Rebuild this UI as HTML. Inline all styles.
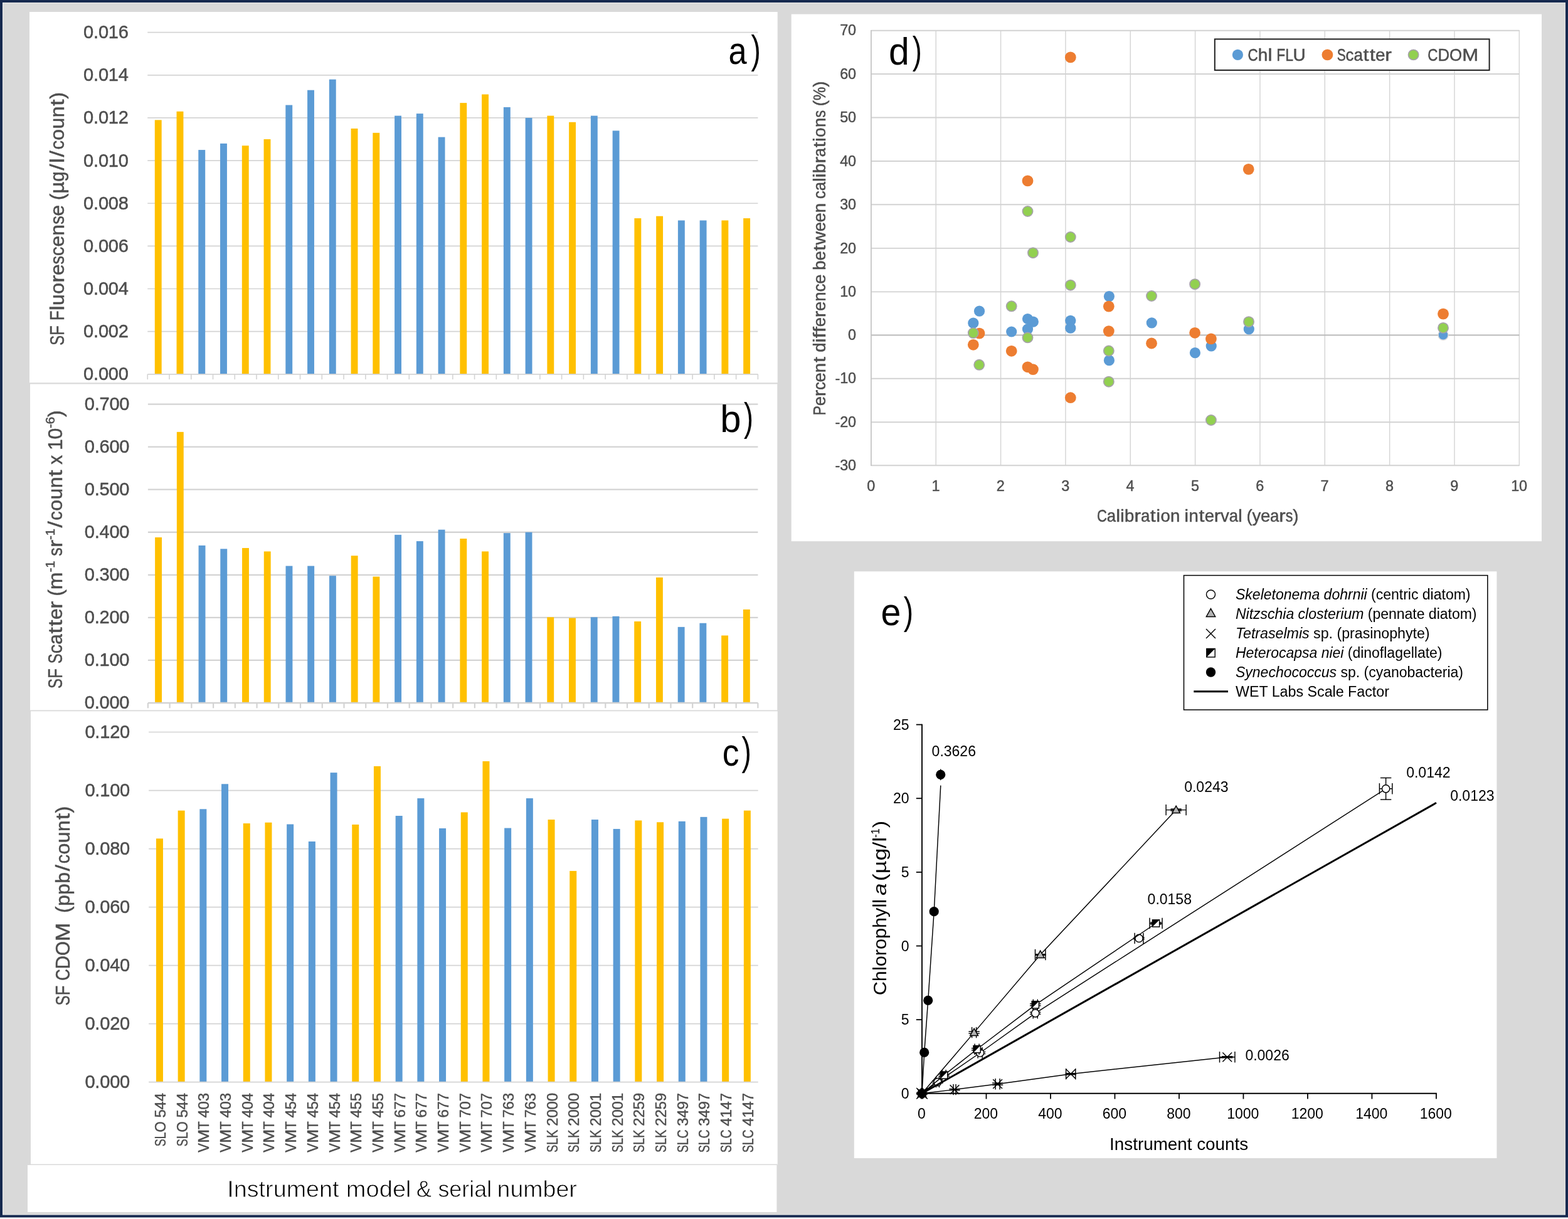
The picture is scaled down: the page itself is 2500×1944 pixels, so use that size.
<!DOCTYPE html>
<html lang="en">
<head>
<meta charset="utf-8">
<title>Scale factor calibration figure</title>
<style>
html,body{margin:0;padding:0;background:#D9D9D9;}
body{width:2500px;height:1944px;overflow:hidden;}
svg{display:block;font-family:"Liberation Sans", sans-serif;}
text{white-space:pre;}
</style>
</head>
<body>
<svg width="2500" height="1944" viewBox="0 0 2500 1944" role="img" aria-label="Five-panel figure: scale factors by instrument (a-c), calibration drift (d) and chlorophyll versus instrument counts (e)">
<rect x="0" y="0" width="2500" height="1944" fill="#16294F"/>
<rect x="0" y="1941.5" width="2500" height="2.5" fill="#FFFFFF"/>
<rect x="4" y="4" width="2492" height="1933.6" fill="#E9E9E9"/>
<rect x="5" y="5" width="2490.5" height="1931.6" fill="#D9D9D9"/>
<rect x="47" y="19" width="1192.7" height="593" fill="#FFFFFF"/>
<rect x="48" y="611" width="1191.3" height="523" fill="#FFFFFF"/>
<rect x="49" y="1133" width="1190.7" height="725" fill="#FFFFFF"/>
<rect x="44" y="1857.6" width="1194.4" height="75.4" fill="#FFFFFF"/>
<line x1="47" y1="611.4" x2="1240" y2="611.4" stroke="#D9D9D9" stroke-width="2.2"/>
<line x1="48" y1="1133.4" x2="1240" y2="1133.4" stroke="#D9D9D9" stroke-width="1.6"/>
<line x1="44" y1="1857.3" x2="1239.7" y2="1857.3" stroke="#D9D9D9" stroke-width="1.4"/>
<line x1="235.25" y1="51.7" x2="1208.4" y2="51.7" stroke="#D4D4D4" stroke-width="1.7"/>
<line x1="235.25" y1="119.84" x2="1208.4" y2="119.84" stroke="#D4D4D4" stroke-width="1.7"/>
<line x1="235.25" y1="187.97" x2="1208.4" y2="187.97" stroke="#D4D4D4" stroke-width="1.7"/>
<line x1="235.25" y1="256.11" x2="1208.4" y2="256.11" stroke="#D4D4D4" stroke-width="1.7"/>
<line x1="235.25" y1="324.25" x2="1208.4" y2="324.25" stroke="#D4D4D4" stroke-width="1.7"/>
<line x1="235.25" y1="392.39" x2="1208.4" y2="392.39" stroke="#D4D4D4" stroke-width="1.7"/>
<line x1="235.25" y1="460.52" x2="1208.4" y2="460.52" stroke="#D4D4D4" stroke-width="1.7"/>
<line x1="235.25" y1="528.66" x2="1208.4" y2="528.66" stroke="#D4D4D4" stroke-width="1.7"/>
<rect x="246.78" y="191.38" width="10.9" height="405.42" fill="#FFC000"/>
<rect x="281.53" y="177.75" width="10.9" height="419.05" fill="#FFC000"/>
<rect x="316.29" y="239.08" width="10.9" height="357.72" fill="#5B9BD5"/>
<rect x="351.04" y="228.86" width="10.9" height="367.94" fill="#5B9BD5"/>
<rect x="385.8" y="232.26" width="10.9" height="364.54" fill="#FFC000"/>
<rect x="420.55" y="222.04" width="10.9" height="374.76" fill="#FFC000"/>
<rect x="455.31" y="167.53" width="10.9" height="429.27" fill="#5B9BD5"/>
<rect x="490.07" y="143.69" width="10.9" height="453.11" fill="#5B9BD5"/>
<rect x="524.82" y="126.65" width="10.9" height="470.15" fill="#5B9BD5"/>
<rect x="559.58" y="205.01" width="10.9" height="391.79" fill="#FFC000"/>
<rect x="594.33" y="211.82" width="10.9" height="384.98" fill="#FFC000"/>
<rect x="629.09" y="184.57" width="10.9" height="412.23" fill="#5B9BD5"/>
<rect x="663.84" y="181.16" width="10.9" height="415.64" fill="#5B9BD5"/>
<rect x="698.6" y="218.64" width="10.9" height="378.16" fill="#5B9BD5"/>
<rect x="733.35" y="164.13" width="10.9" height="432.67" fill="#FFC000"/>
<rect x="768.11" y="150.5" width="10.9" height="446.3" fill="#FFC000"/>
<rect x="802.86" y="170.94" width="10.9" height="425.86" fill="#5B9BD5"/>
<rect x="837.62" y="187.98" width="10.9" height="408.82" fill="#5B9BD5"/>
<rect x="872.37" y="184.57" width="10.9" height="412.23" fill="#FFC000"/>
<rect x="907.13" y="194.79" width="10.9" height="402.01" fill="#FFC000"/>
<rect x="941.88" y="184.57" width="10.9" height="412.23" fill="#5B9BD5"/>
<rect x="976.64" y="208.42" width="10.9" height="388.38" fill="#5B9BD5"/>
<rect x="1011.4" y="348.1" width="10.9" height="248.7" fill="#FFC000"/>
<rect x="1046.15" y="344.69" width="10.9" height="252.11" fill="#FFC000"/>
<rect x="1080.91" y="351.5" width="10.9" height="245.29" fill="#5B9BD5"/>
<rect x="1115.66" y="351.5" width="10.9" height="245.29" fill="#5B9BD5"/>
<rect x="1150.42" y="351.5" width="10.9" height="245.29" fill="#FFC000"/>
<rect x="1185.17" y="348.1" width="10.9" height="248.7" fill="#FFC000"/>
<line x1="235.25" y1="596.8" x2="1208.4" y2="596.8" stroke="#D4D4D4" stroke-width="1.7"/>
<line x1="235.25" y1="596.8" x2="235.25" y2="605.1" stroke="#D4D4D4" stroke-width="1.6"/>
<line x1="270.01" y1="596.8" x2="270.01" y2="605.1" stroke="#D4D4D4" stroke-width="1.6"/>
<line x1="304.76" y1="596.8" x2="304.76" y2="605.1" stroke="#D4D4D4" stroke-width="1.6"/>
<line x1="339.52" y1="596.8" x2="339.52" y2="605.1" stroke="#D4D4D4" stroke-width="1.6"/>
<line x1="374.27" y1="596.8" x2="374.27" y2="605.1" stroke="#D4D4D4" stroke-width="1.6"/>
<line x1="409.03" y1="596.8" x2="409.03" y2="605.1" stroke="#D4D4D4" stroke-width="1.6"/>
<line x1="443.78" y1="596.8" x2="443.78" y2="605.1" stroke="#D4D4D4" stroke-width="1.6"/>
<line x1="478.54" y1="596.8" x2="478.54" y2="605.1" stroke="#D4D4D4" stroke-width="1.6"/>
<line x1="513.29" y1="596.8" x2="513.29" y2="605.1" stroke="#D4D4D4" stroke-width="1.6"/>
<line x1="548.05" y1="596.8" x2="548.05" y2="605.1" stroke="#D4D4D4" stroke-width="1.6"/>
<line x1="582.8" y1="596.8" x2="582.8" y2="605.1" stroke="#D4D4D4" stroke-width="1.6"/>
<line x1="617.56" y1="596.8" x2="617.56" y2="605.1" stroke="#D4D4D4" stroke-width="1.6"/>
<line x1="652.31" y1="596.8" x2="652.31" y2="605.1" stroke="#D4D4D4" stroke-width="1.6"/>
<line x1="687.07" y1="596.8" x2="687.07" y2="605.1" stroke="#D4D4D4" stroke-width="1.6"/>
<line x1="721.83" y1="596.8" x2="721.83" y2="605.1" stroke="#D4D4D4" stroke-width="1.6"/>
<line x1="756.58" y1="596.8" x2="756.58" y2="605.1" stroke="#D4D4D4" stroke-width="1.6"/>
<line x1="791.34" y1="596.8" x2="791.34" y2="605.1" stroke="#D4D4D4" stroke-width="1.6"/>
<line x1="826.09" y1="596.8" x2="826.09" y2="605.1" stroke="#D4D4D4" stroke-width="1.6"/>
<line x1="860.85" y1="596.8" x2="860.85" y2="605.1" stroke="#D4D4D4" stroke-width="1.6"/>
<line x1="895.6" y1="596.8" x2="895.6" y2="605.1" stroke="#D4D4D4" stroke-width="1.6"/>
<line x1="930.36" y1="596.8" x2="930.36" y2="605.1" stroke="#D4D4D4" stroke-width="1.6"/>
<line x1="965.11" y1="596.8" x2="965.11" y2="605.1" stroke="#D4D4D4" stroke-width="1.6"/>
<line x1="999.87" y1="596.8" x2="999.87" y2="605.1" stroke="#D4D4D4" stroke-width="1.6"/>
<line x1="1034.62" y1="596.8" x2="1034.62" y2="605.1" stroke="#D4D4D4" stroke-width="1.6"/>
<line x1="1069.38" y1="596.8" x2="1069.38" y2="605.1" stroke="#D4D4D4" stroke-width="1.6"/>
<line x1="1104.13" y1="596.8" x2="1104.13" y2="605.1" stroke="#D4D4D4" stroke-width="1.6"/>
<line x1="1138.89" y1="596.8" x2="1138.89" y2="605.1" stroke="#D4D4D4" stroke-width="1.6"/>
<line x1="1173.64" y1="596.8" x2="1173.64" y2="605.1" stroke="#D4D4D4" stroke-width="1.6"/>
<line x1="1208.4" y1="596.8" x2="1208.4" y2="605.1" stroke="#D4D4D4" stroke-width="1.6"/>
<text fill="#4E4E4E" stroke="#4E4E4E" stroke-width="0.5" stroke-linejoin="round"><tspan x="133.1 149.06 156.94 172.85 188.77" y="61.15" font-size="29.05">0.016</tspan></text>
<text fill="#4E4E4E" stroke="#4E4E4E" stroke-width="0.5" stroke-linejoin="round"><tspan x="133.1 149.06 156.94 172.85 188.77" y="129.29" font-size="29.05">0.014</tspan></text>
<text fill="#4E4E4E" stroke="#4E4E4E" stroke-width="0.5" stroke-linejoin="round"><tspan x="133.1 149.06 156.94 172.85 188.77" y="197.42" font-size="29.05">0.012</tspan></text>
<text fill="#4E4E4E" stroke="#4E4E4E" stroke-width="0.5" stroke-linejoin="round"><tspan x="133.1 149.06 156.94 172.85 188.77" y="265.56" font-size="29.05">0.010</tspan></text>
<text fill="#4E4E4E" stroke="#4E4E4E" stroke-width="0.5" stroke-linejoin="round"><tspan x="133.1 149.06 156.94 172.85 188.77" y="333.7" font-size="29.05">0.008</tspan></text>
<text fill="#4E4E4E" stroke="#4E4E4E" stroke-width="0.5" stroke-linejoin="round"><tspan x="133.1 149.06 156.94 172.85 188.77" y="401.84" font-size="29.05">0.006</tspan></text>
<text fill="#4E4E4E" stroke="#4E4E4E" stroke-width="0.5" stroke-linejoin="round"><tspan x="133.1 149.06 156.94 172.85 188.77" y="469.97" font-size="29.05">0.004</tspan></text>
<text fill="#4E4E4E" stroke="#4E4E4E" stroke-width="0.5" stroke-linejoin="round"><tspan x="133.1 149.06 156.94 172.85 188.77" y="538.11" font-size="29.05">0.002</tspan></text>
<text fill="#4E4E4E" stroke="#4E4E4E" stroke-width="0.5" stroke-linejoin="round"><tspan x="133.1 149.06 156.94 172.85 188.77" y="606.25" font-size="29.05">0.000</tspan></text>
<line x1="235.9" y1="644.6" x2="1208.4" y2="644.6" stroke="#D3D3D3" stroke-width="2.3"/>
<line x1="235.9" y1="712.66" x2="1208.4" y2="712.66" stroke="#D3D3D3" stroke-width="2.3"/>
<line x1="235.9" y1="780.71" x2="1208.4" y2="780.71" stroke="#D3D3D3" stroke-width="2.3"/>
<line x1="235.9" y1="848.77" x2="1208.4" y2="848.77" stroke="#D3D3D3" stroke-width="2.3"/>
<line x1="235.9" y1="916.83" x2="1208.4" y2="916.83" stroke="#D3D3D3" stroke-width="2.3"/>
<line x1="235.9" y1="984.89" x2="1208.4" y2="984.89" stroke="#D3D3D3" stroke-width="2.3"/>
<line x1="235.9" y1="1052.94" x2="1208.4" y2="1052.94" stroke="#D3D3D3" stroke-width="2.3"/>
<rect x="247.12" y="856.94" width="10.9" height="264.06" fill="#FFC000"/>
<rect x="281.85" y="688.84" width="10.9" height="432.16" fill="#FFC000"/>
<rect x="316.58" y="869.87" width="10.9" height="251.13" fill="#5B9BD5"/>
<rect x="351.31" y="875.31" width="10.9" height="245.69" fill="#5B9BD5"/>
<rect x="386.04" y="873.95" width="10.9" height="247.05" fill="#FFC000"/>
<rect x="420.78" y="879.4" width="10.9" height="241.6" fill="#FFC000"/>
<rect x="455.51" y="902.54" width="10.9" height="218.46" fill="#5B9BD5"/>
<rect x="490.24" y="902.54" width="10.9" height="218.46" fill="#5B9BD5"/>
<rect x="524.97" y="918.19" width="10.9" height="202.81" fill="#5B9BD5"/>
<rect x="559.71" y="886.2" width="10.9" height="234.8" fill="#FFC000"/>
<rect x="594.44" y="919.55" width="10.9" height="201.45" fill="#FFC000"/>
<rect x="629.17" y="852.85" width="10.9" height="268.15" fill="#5B9BD5"/>
<rect x="663.9" y="863.06" width="10.9" height="257.94" fill="#5B9BD5"/>
<rect x="698.63" y="844.69" width="10.9" height="276.31" fill="#5B9BD5"/>
<rect x="733.37" y="858.98" width="10.9" height="262.02" fill="#FFC000"/>
<rect x="768.1" y="879.4" width="10.9" height="241.6" fill="#FFC000"/>
<rect x="802.83" y="850.13" width="10.9" height="270.87" fill="#5B9BD5"/>
<rect x="837.56" y="848.77" width="10.9" height="272.23" fill="#5B9BD5"/>
<rect x="872.29" y="984.21" width="10.9" height="136.79" fill="#FFC000"/>
<rect x="907.03" y="985.57" width="10.9" height="135.43" fill="#FFC000"/>
<rect x="941.76" y="984.21" width="10.9" height="136.79" fill="#5B9BD5"/>
<rect x="976.49" y="982.84" width="10.9" height="138.16" fill="#5B9BD5"/>
<rect x="1011.22" y="991.01" width="10.9" height="129.99" fill="#FFC000"/>
<rect x="1045.96" y="920.91" width="10.9" height="200.09" fill="#FFC000"/>
<rect x="1080.69" y="999.86" width="10.9" height="121.14" fill="#5B9BD5"/>
<rect x="1115.42" y="993.73" width="10.9" height="127.27" fill="#5B9BD5"/>
<rect x="1150.15" y="1013.47" width="10.9" height="107.53" fill="#FFC000"/>
<rect x="1184.88" y="971.95" width="10.9" height="149.05" fill="#FFC000"/>
<line x1="235.9" y1="1121" x2="1208.4" y2="1121" stroke="#D3D3D3" stroke-width="2.3"/>
<line x1="235.9" y1="1121" x2="235.9" y2="1129.3" stroke="#D3D3D3" stroke-width="2.2"/>
<line x1="270.63" y1="1121" x2="270.63" y2="1129.3" stroke="#D3D3D3" stroke-width="2.2"/>
<line x1="305.36" y1="1121" x2="305.36" y2="1129.3" stroke="#D3D3D3" stroke-width="2.2"/>
<line x1="340.1" y1="1121" x2="340.1" y2="1129.3" stroke="#D3D3D3" stroke-width="2.2"/>
<line x1="374.83" y1="1121" x2="374.83" y2="1129.3" stroke="#D3D3D3" stroke-width="2.2"/>
<line x1="409.56" y1="1121" x2="409.56" y2="1129.3" stroke="#D3D3D3" stroke-width="2.2"/>
<line x1="444.29" y1="1121" x2="444.29" y2="1129.3" stroke="#D3D3D3" stroke-width="2.2"/>
<line x1="479.03" y1="1121" x2="479.03" y2="1129.3" stroke="#D3D3D3" stroke-width="2.2"/>
<line x1="513.76" y1="1121" x2="513.76" y2="1129.3" stroke="#D3D3D3" stroke-width="2.2"/>
<line x1="548.49" y1="1121" x2="548.49" y2="1129.3" stroke="#D3D3D3" stroke-width="2.2"/>
<line x1="583.22" y1="1121" x2="583.22" y2="1129.3" stroke="#D3D3D3" stroke-width="2.2"/>
<line x1="617.95" y1="1121" x2="617.95" y2="1129.3" stroke="#D3D3D3" stroke-width="2.2"/>
<line x1="652.69" y1="1121" x2="652.69" y2="1129.3" stroke="#D3D3D3" stroke-width="2.2"/>
<line x1="687.42" y1="1121" x2="687.42" y2="1129.3" stroke="#D3D3D3" stroke-width="2.2"/>
<line x1="722.15" y1="1121" x2="722.15" y2="1129.3" stroke="#D3D3D3" stroke-width="2.2"/>
<line x1="756.88" y1="1121" x2="756.88" y2="1129.3" stroke="#D3D3D3" stroke-width="2.2"/>
<line x1="791.61" y1="1121" x2="791.61" y2="1129.3" stroke="#D3D3D3" stroke-width="2.2"/>
<line x1="826.35" y1="1121" x2="826.35" y2="1129.3" stroke="#D3D3D3" stroke-width="2.2"/>
<line x1="861.08" y1="1121" x2="861.08" y2="1129.3" stroke="#D3D3D3" stroke-width="2.2"/>
<line x1="895.81" y1="1121" x2="895.81" y2="1129.3" stroke="#D3D3D3" stroke-width="2.2"/>
<line x1="930.54" y1="1121" x2="930.54" y2="1129.3" stroke="#D3D3D3" stroke-width="2.2"/>
<line x1="965.28" y1="1121" x2="965.28" y2="1129.3" stroke="#D3D3D3" stroke-width="2.2"/>
<line x1="1000.01" y1="1121" x2="1000.01" y2="1129.3" stroke="#D3D3D3" stroke-width="2.2"/>
<line x1="1034.74" y1="1121" x2="1034.74" y2="1129.3" stroke="#D3D3D3" stroke-width="2.2"/>
<line x1="1069.47" y1="1121" x2="1069.47" y2="1129.3" stroke="#D3D3D3" stroke-width="2.2"/>
<line x1="1104.2" y1="1121" x2="1104.2" y2="1129.3" stroke="#D3D3D3" stroke-width="2.2"/>
<line x1="1138.94" y1="1121" x2="1138.94" y2="1129.3" stroke="#D3D3D3" stroke-width="2.2"/>
<line x1="1173.67" y1="1121" x2="1173.67" y2="1129.3" stroke="#D3D3D3" stroke-width="2.2"/>
<line x1="1208.4" y1="1121" x2="1208.4" y2="1129.3" stroke="#D3D3D3" stroke-width="2.2"/>
<text fill="#4E4E4E" stroke="#4E4E4E" stroke-width="0.5" stroke-linejoin="round"><tspan x="134.7 150.66 158.54 174.45 190.37" y="654.05" font-size="29.05">0.700</tspan></text>
<text fill="#4E4E4E" stroke="#4E4E4E" stroke-width="0.5" stroke-linejoin="round"><tspan x="134.7 150.66 158.54 174.45 190.37" y="722.11" font-size="29.05">0.600</tspan></text>
<text fill="#4E4E4E" stroke="#4E4E4E" stroke-width="0.5" stroke-linejoin="round"><tspan x="134.7 150.66 158.54 174.45 190.37" y="790.16" font-size="29.05">0.500</tspan></text>
<text fill="#4E4E4E" stroke="#4E4E4E" stroke-width="0.5" stroke-linejoin="round"><tspan x="134.7 150.66 158.54 174.45 190.37" y="858.22" font-size="29.05">0.400</tspan></text>
<text fill="#4E4E4E" stroke="#4E4E4E" stroke-width="0.5" stroke-linejoin="round"><tspan x="134.7 150.66 158.54 174.45 190.37" y="926.28" font-size="29.05">0.300</tspan></text>
<text fill="#4E4E4E" stroke="#4E4E4E" stroke-width="0.5" stroke-linejoin="round"><tspan x="134.7 150.66 158.54 174.45 190.37" y="994.34" font-size="29.05">0.200</tspan></text>
<text fill="#4E4E4E" stroke="#4E4E4E" stroke-width="0.5" stroke-linejoin="round"><tspan x="134.7 150.66 158.54 174.45 190.37" y="1062.39" font-size="29.05">0.100</tspan></text>
<text fill="#4E4E4E" stroke="#4E4E4E" stroke-width="0.5" stroke-linejoin="round"><tspan x="134.7 150.66 158.54 174.45 190.37" y="1130.45" font-size="29.05">0.000</tspan></text>
<line x1="237.1" y1="1167.5" x2="1208.7" y2="1167.5" stroke="#D4D4D4" stroke-width="1.7"/>
<line x1="237.1" y1="1260.53" x2="1208.7" y2="1260.53" stroke="#D4D4D4" stroke-width="1.7"/>
<line x1="237.1" y1="1353.57" x2="1208.7" y2="1353.57" stroke="#D4D4D4" stroke-width="1.7"/>
<line x1="237.1" y1="1446.6" x2="1208.7" y2="1446.6" stroke="#D4D4D4" stroke-width="1.7"/>
<line x1="237.1" y1="1539.63" x2="1208.7" y2="1539.63" stroke="#D4D4D4" stroke-width="1.7"/>
<line x1="237.1" y1="1632.67" x2="1208.7" y2="1632.67" stroke="#D4D4D4" stroke-width="1.7"/>
<rect x="248.95" y="1337.29" width="11" height="388.41" fill="#FFC000"/>
<rect x="283.65" y="1292.63" width="11" height="433.07" fill="#FFC000"/>
<rect x="318.35" y="1290.3" width="11" height="435.4" fill="#5B9BD5"/>
<rect x="353.05" y="1250.3" width="11" height="475.4" fill="#5B9BD5"/>
<rect x="387.75" y="1313.1" width="11" height="412.6" fill="#FFC000"/>
<rect x="422.45" y="1311.7" width="11" height="414" fill="#FFC000"/>
<rect x="457.15" y="1314.49" width="11" height="411.21" fill="#5B9BD5"/>
<rect x="491.85" y="1341.94" width="11" height="383.76" fill="#5B9BD5"/>
<rect x="526.55" y="1232.16" width="11" height="493.54" fill="#5B9BD5"/>
<rect x="561.25" y="1314.96" width="11" height="410.74" fill="#FFC000"/>
<rect x="595.95" y="1221.92" width="11" height="503.78" fill="#FFC000"/>
<rect x="630.65" y="1301" width="11" height="424.7" fill="#5B9BD5"/>
<rect x="665.35" y="1273.09" width="11" height="452.61" fill="#5B9BD5"/>
<rect x="700.05" y="1321.01" width="11" height="404.69" fill="#5B9BD5"/>
<rect x="734.75" y="1295.42" width="11" height="430.28" fill="#FFC000"/>
<rect x="769.45" y="1214.02" width="11" height="511.68" fill="#FFC000"/>
<rect x="804.15" y="1320.54" width="11" height="405.16" fill="#5B9BD5"/>
<rect x="838.85" y="1273.09" width="11" height="452.61" fill="#5B9BD5"/>
<rect x="873.55" y="1307.05" width="11" height="418.65" fill="#FFC000"/>
<rect x="908.25" y="1388.92" width="11" height="336.78" fill="#FFC000"/>
<rect x="942.95" y="1307.05" width="11" height="418.65" fill="#5B9BD5"/>
<rect x="977.65" y="1321.94" width="11" height="403.76" fill="#5B9BD5"/>
<rect x="1012.35" y="1308.45" width="11" height="417.25" fill="#FFC000"/>
<rect x="1047.05" y="1311.24" width="11" height="414.46" fill="#FFC000"/>
<rect x="1081.75" y="1309.84" width="11" height="415.86" fill="#5B9BD5"/>
<rect x="1116.45" y="1302.86" width="11" height="422.84" fill="#5B9BD5"/>
<rect x="1151.15" y="1305.65" width="11" height="420.05" fill="#FFC000"/>
<rect x="1185.85" y="1292.63" width="11" height="433.07" fill="#FFC000"/>
<line x1="237.1" y1="1725.7" x2="1208.7" y2="1725.7" stroke="#D4D4D4" stroke-width="1.7"/>
<text fill="#4E4E4E" stroke="#4E4E4E" stroke-width="0.5" stroke-linejoin="round"><tspan x="135.4 151.36 159.24 175.15 191.07" y="1176.95" font-size="29.05">0.120</tspan></text>
<text fill="#4E4E4E" stroke="#4E4E4E" stroke-width="0.5" stroke-linejoin="round"><tspan x="135.4 151.36 159.24 175.15 191.07" y="1269.98" font-size="29.05">0.100</tspan></text>
<text fill="#4E4E4E" stroke="#4E4E4E" stroke-width="0.5" stroke-linejoin="round"><tspan x="135.4 151.36 159.24 175.15 191.07" y="1363.02" font-size="29.05">0.080</tspan></text>
<text fill="#4E4E4E" stroke="#4E4E4E" stroke-width="0.5" stroke-linejoin="round"><tspan x="135.4 151.36 159.24 175.15 191.07" y="1456.05" font-size="29.05">0.060</tspan></text>
<text fill="#4E4E4E" stroke="#4E4E4E" stroke-width="0.5" stroke-linejoin="round"><tspan x="135.4 151.36 159.24 175.15 191.07" y="1549.08" font-size="29.05">0.040</tspan></text>
<text fill="#4E4E4E" stroke="#4E4E4E" stroke-width="0.5" stroke-linejoin="round"><tspan x="135.4 151.36 159.24 175.15 191.07" y="1642.12" font-size="29.05">0.020</tspan></text>
<text fill="#4E4E4E" stroke="#4E4E4E" stroke-width="0.5" stroke-linejoin="round"><tspan x="135.4 151.36 159.24 175.15 191.07" y="1735.15" font-size="29.05">0.000</tspan></text>
<text fill="#4E4E4E" stroke="#4E4E4E" stroke-width="0.5" stroke-linejoin="round" transform="rotate(-90 102.1 549.9)"><tspan x="101.17" y="549.9" font-size="31.88" textLength="15.92" lengthAdjust="spacingAndGlyphs">S</tspan><tspan x="117.09" y="549.9" font-size="31.88" textLength="15.92" lengthAdjust="spacingAndGlyphs">F</tspan><tspan x="132.5" y="549.9" font-size="31.88"> </tspan><tspan x="140.85" y="549.9" font-size="31.88" textLength="15.92" lengthAdjust="spacingAndGlyphs">F</tspan><tspan x="156.77" y="549.9" font-size="31.88" textLength="7.95" lengthAdjust="spacingAndGlyphs">l</tspan><tspan x="164.96 183.19" y="549.9" font-size="31.88">uo</tspan><tspan x="201.2" y="549.9" font-size="31.88" textLength="12.08" lengthAdjust="spacingAndGlyphs">r</tspan><tspan x="213.03" y="549.9" font-size="31.88">e</tspan><tspan x="230.52" y="549.9" font-size="31.88" textLength="13.55" lengthAdjust="spacingAndGlyphs">s</tspan><tspan x="244.07" y="549.9" font-size="31.88" textLength="14.65" lengthAdjust="spacingAndGlyphs">c</tspan><tspan x="258.48 276.2" y="549.9" font-size="31.88">en</tspan><tspan x="294.17" y="549.9" font-size="31.88" textLength="13.55" lengthAdjust="spacingAndGlyphs">s</tspan><tspan x="307.48 324.45 332.74" y="549.9" font-size="31.88">e (</tspan><tspan x="343.3" y="549.9" font-size="31.88" textLength="19.05" lengthAdjust="spacingAndGlyphs">µ</tspan><tspan x="362.35" y="549.9" font-size="31.88" textLength="16.31" lengthAdjust="spacingAndGlyphs">g</tspan><tspan x="380.22" y="549.9" font-size="31.88" textLength="10.27" lengthAdjust="spacingAndGlyphs">/</tspan><tspan x="392.04" y="549.9" font-size="31.88" textLength="7.95" lengthAdjust="spacingAndGlyphs">l</tspan><tspan x="401.55" y="549.9" font-size="31.88" textLength="10.27" lengthAdjust="spacingAndGlyphs">/</tspan><tspan x="413.38" y="549.9" font-size="31.88" textLength="14.65" lengthAdjust="spacingAndGlyphs">c</tspan><tspan x="428.3 446.54 464.75" y="549.9" font-size="31.88">oun</tspan><tspan x="483.38" y="549.9" font-size="31.88" textLength="10.27" lengthAdjust="spacingAndGlyphs">t</tspan><tspan x="494.27" y="549.9" font-size="31.88">)</tspan></text>
<text fill="#4E4E4E" stroke="#4E4E4E" stroke-width="0.5" stroke-linejoin="round" transform="rotate(-90 98.8 1097)"><tspan x="97.87" y="1097" font-size="31.88" textLength="15.92" lengthAdjust="spacingAndGlyphs">S</tspan><tspan x="113.79" y="1097" font-size="31.88" textLength="15.92" lengthAdjust="spacingAndGlyphs">F</tspan><tspan x="129.2" y="1097" font-size="31.88"> </tspan><tspan x="137.55" y="1097" font-size="31.88" textLength="15.92" lengthAdjust="spacingAndGlyphs">S</tspan><tspan x="153.47" y="1097" font-size="31.88" textLength="14.65" lengthAdjust="spacingAndGlyphs">c</tspan><tspan x="168.12" y="1097" font-size="31.88" textLength="16.6" lengthAdjust="spacingAndGlyphs">a</tspan><tspan x="185.39" y="1097" font-size="31.88" textLength="10.27" lengthAdjust="spacingAndGlyphs">t</tspan><tspan x="196.99" y="1097" font-size="31.88" textLength="10.27" lengthAdjust="spacingAndGlyphs">t</tspan><tspan x="207.69" y="1097" font-size="31.88">e</tspan><tspan x="225.18" y="1097" font-size="31.88" textLength="12.08" lengthAdjust="spacingAndGlyphs">r</tspan><tspan x="236.74 245.03" y="1097" font-size="31.88"> (</tspan><tspan x="255.59" y="1097" font-size="31.88" textLength="27.68" lengthAdjust="spacingAndGlyphs">m</tspan><tspan x="283.27 290.01" y="1085.57" font-size="20.4">-1</tspan><tspan x="300.79" y="1097" font-size="31.88"> </tspan><tspan x="309.14" y="1097" font-size="31.88" textLength="13.55" lengthAdjust="spacingAndGlyphs">s</tspan><tspan x="322.69" y="1097" font-size="31.88" textLength="12.08" lengthAdjust="spacingAndGlyphs">r</tspan><tspan x="334.77 341.5" y="1085.57" font-size="20.4">-1</tspan><tspan x="354.35" y="1097" font-size="31.88" textLength="10.27" lengthAdjust="spacingAndGlyphs">/</tspan><tspan x="366.18" y="1097" font-size="31.88" textLength="14.65" lengthAdjust="spacingAndGlyphs">c</tspan><tspan x="381.1 399.34 417.54" y="1097" font-size="31.88">oun</tspan><tspan x="436.18" y="1097" font-size="31.88" textLength="10.27" lengthAdjust="spacingAndGlyphs">t</tspan><tspan x="446.61" y="1097" font-size="31.88"> </tspan><tspan x="454.95" y="1097" font-size="31.88" textLength="15.01" lengthAdjust="spacingAndGlyphs">x</tspan><tspan x="469.45 477.71 495.27" y="1097" font-size="31.88"> 10</tspan><tspan x="512.92 519.65" y="1085.57" font-size="20.4">-6</tspan><tspan x="530.89" y="1097" font-size="31.88">)</tspan></text>
<text fill="#4E4E4E" stroke="#4E4E4E" stroke-width="0.5" stroke-linejoin="round" transform="rotate(-90 111.5 1602.6)"><tspan x="110.57" y="1602.6" font-size="31.88" textLength="15.92" lengthAdjust="spacingAndGlyphs">S</tspan><tspan x="126.49" y="1602.6" font-size="31.88" textLength="15.92" lengthAdjust="spacingAndGlyphs">F</tspan><tspan x="141.9" y="1602.6" font-size="31.88"> </tspan><tspan x="150.25" y="1602.6" font-size="31.88" textLength="18.48" lengthAdjust="spacingAndGlyphs">C</tspan><tspan x="168.72" y="1602.6" font-size="31.88" textLength="21.32" lengthAdjust="spacingAndGlyphs">D</tspan><tspan x="190.04" y="1602.6" font-size="31.88" textLength="22.94" lengthAdjust="spacingAndGlyphs">O</tspan><tspan x="212.98" y="1602.6" font-size="31.88" textLength="29.63" lengthAdjust="spacingAndGlyphs">M</tspan><tspan x="242.09 249.93 258.22 269.02 287.22 305.43" y="1602.6" font-size="31.88">  (ppb</tspan><tspan x="324.95" y="1602.6" font-size="31.88" textLength="10.27" lengthAdjust="spacingAndGlyphs">/</tspan><tspan x="336.78" y="1602.6" font-size="31.88" textLength="14.65" lengthAdjust="spacingAndGlyphs">c</tspan><tspan x="351.7 369.94 388.14" y="1602.6" font-size="31.88">oun</tspan><tspan x="406.78" y="1602.6" font-size="31.88" textLength="10.27" lengthAdjust="spacingAndGlyphs">t</tspan><tspan x="417.66" y="1602.6" font-size="31.88">)</tspan></text>
<text fill="#4E4E4E" stroke="#4E4E4E" stroke-width="0.45" stroke-linejoin="round" transform="rotate(-90 263.95 1743.1)"><tspan x="178.78" y="1743.1" font-size="23.96" textLength="11.9" lengthAdjust="spacingAndGlyphs">S</tspan><tspan x="190.68" y="1743.1" font-size="23.96" textLength="10.89" lengthAdjust="spacingAndGlyphs">L</tspan><tspan x="201.57" y="1743.1" font-size="23.96" textLength="17.15" lengthAdjust="spacingAndGlyphs">O</tspan><tspan x="218.32 224.47 237.6 250.72" y="1743.1" font-size="23.96"> 544</tspan></text>
<text fill="#4E4E4E" stroke="#4E4E4E" stroke-width="0.45" stroke-linejoin="round" transform="rotate(-90 298.65 1743.1)"><tspan x="213.48" y="1743.1" font-size="23.96" textLength="11.9" lengthAdjust="spacingAndGlyphs">S</tspan><tspan x="225.38" y="1743.1" font-size="23.96" textLength="10.89" lengthAdjust="spacingAndGlyphs">L</tspan><tspan x="236.27" y="1743.1" font-size="23.96" textLength="17.15" lengthAdjust="spacingAndGlyphs">O</tspan><tspan x="253.02 259.17 272.3 285.42" y="1743.1" font-size="23.96"> 544</tspan></text>
<text fill="#4E4E4E" stroke="#4E4E4E" stroke-width="0.45" stroke-linejoin="round" transform="rotate(-90 333.35 1743.1)"><tspan x="238.65" y="1743.1" font-size="23.96" textLength="14.7" lengthAdjust="spacingAndGlyphs">V</tspan><tspan x="253.35" y="1743.1" font-size="23.96" textLength="22.14" lengthAdjust="spacingAndGlyphs">M</tspan><tspan x="275.49" y="1743.1" font-size="23.96" textLength="12.62" lengthAdjust="spacingAndGlyphs">T</tspan><tspan x="287.72 293.87 307 320.12" y="1743.1" font-size="23.96"> 403</tspan></text>
<text fill="#4E4E4E" stroke="#4E4E4E" stroke-width="0.45" stroke-linejoin="round" transform="rotate(-90 368.05 1743.1)"><tspan x="273.35" y="1743.1" font-size="23.96" textLength="14.7" lengthAdjust="spacingAndGlyphs">V</tspan><tspan x="288.05" y="1743.1" font-size="23.96" textLength="22.14" lengthAdjust="spacingAndGlyphs">M</tspan><tspan x="310.19" y="1743.1" font-size="23.96" textLength="12.62" lengthAdjust="spacingAndGlyphs">T</tspan><tspan x="322.42 328.57 341.7 354.82" y="1743.1" font-size="23.96"> 403</tspan></text>
<text fill="#4E4E4E" stroke="#4E4E4E" stroke-width="0.45" stroke-linejoin="round" transform="rotate(-90 402.75 1743.1)"><tspan x="308.05" y="1743.1" font-size="23.96" textLength="14.7" lengthAdjust="spacingAndGlyphs">V</tspan><tspan x="322.75" y="1743.1" font-size="23.96" textLength="22.14" lengthAdjust="spacingAndGlyphs">M</tspan><tspan x="344.89" y="1743.1" font-size="23.96" textLength="12.62" lengthAdjust="spacingAndGlyphs">T</tspan><tspan x="357.12 363.27 376.4 389.52" y="1743.1" font-size="23.96"> 404</tspan></text>
<text fill="#4E4E4E" stroke="#4E4E4E" stroke-width="0.45" stroke-linejoin="round" transform="rotate(-90 437.45 1743.1)"><tspan x="342.75" y="1743.1" font-size="23.96" textLength="14.7" lengthAdjust="spacingAndGlyphs">V</tspan><tspan x="357.45" y="1743.1" font-size="23.96" textLength="22.14" lengthAdjust="spacingAndGlyphs">M</tspan><tspan x="379.59" y="1743.1" font-size="23.96" textLength="12.62" lengthAdjust="spacingAndGlyphs">T</tspan><tspan x="391.82 397.97 411.1 424.22" y="1743.1" font-size="23.96"> 404</tspan></text>
<text fill="#4E4E4E" stroke="#4E4E4E" stroke-width="0.45" stroke-linejoin="round" transform="rotate(-90 472.15 1743.1)"><tspan x="377.45" y="1743.1" font-size="23.96" textLength="14.7" lengthAdjust="spacingAndGlyphs">V</tspan><tspan x="392.15" y="1743.1" font-size="23.96" textLength="22.14" lengthAdjust="spacingAndGlyphs">M</tspan><tspan x="414.29" y="1743.1" font-size="23.96" textLength="12.62" lengthAdjust="spacingAndGlyphs">T</tspan><tspan x="426.52 432.67 445.8 458.92" y="1743.1" font-size="23.96"> 454</tspan></text>
<text fill="#4E4E4E" stroke="#4E4E4E" stroke-width="0.45" stroke-linejoin="round" transform="rotate(-90 506.85 1743.1)"><tspan x="412.15" y="1743.1" font-size="23.96" textLength="14.7" lengthAdjust="spacingAndGlyphs">V</tspan><tspan x="426.85" y="1743.1" font-size="23.96" textLength="22.14" lengthAdjust="spacingAndGlyphs">M</tspan><tspan x="448.99" y="1743.1" font-size="23.96" textLength="12.62" lengthAdjust="spacingAndGlyphs">T</tspan><tspan x="461.22 467.37 480.5 493.62" y="1743.1" font-size="23.96"> 454</tspan></text>
<text fill="#4E4E4E" stroke="#4E4E4E" stroke-width="0.45" stroke-linejoin="round" transform="rotate(-90 541.55 1743.1)"><tspan x="446.85" y="1743.1" font-size="23.96" textLength="14.7" lengthAdjust="spacingAndGlyphs">V</tspan><tspan x="461.55" y="1743.1" font-size="23.96" textLength="22.14" lengthAdjust="spacingAndGlyphs">M</tspan><tspan x="483.69" y="1743.1" font-size="23.96" textLength="12.62" lengthAdjust="spacingAndGlyphs">T</tspan><tspan x="495.92 502.07 515.2 528.32" y="1743.1" font-size="23.96"> 454</tspan></text>
<text fill="#4E4E4E" stroke="#4E4E4E" stroke-width="0.45" stroke-linejoin="round" transform="rotate(-90 576.25 1743.1)"><tspan x="481.55" y="1743.1" font-size="23.96" textLength="14.7" lengthAdjust="spacingAndGlyphs">V</tspan><tspan x="496.25" y="1743.1" font-size="23.96" textLength="22.14" lengthAdjust="spacingAndGlyphs">M</tspan><tspan x="518.39" y="1743.1" font-size="23.96" textLength="12.62" lengthAdjust="spacingAndGlyphs">T</tspan><tspan x="530.62 536.77 549.9 563.02" y="1743.1" font-size="23.96"> 455</tspan></text>
<text fill="#4E4E4E" stroke="#4E4E4E" stroke-width="0.45" stroke-linejoin="round" transform="rotate(-90 610.95 1743.1)"><tspan x="516.25" y="1743.1" font-size="23.96" textLength="14.7" lengthAdjust="spacingAndGlyphs">V</tspan><tspan x="530.95" y="1743.1" font-size="23.96" textLength="22.14" lengthAdjust="spacingAndGlyphs">M</tspan><tspan x="553.09" y="1743.1" font-size="23.96" textLength="12.62" lengthAdjust="spacingAndGlyphs">T</tspan><tspan x="565.32 571.47 584.6 597.72" y="1743.1" font-size="23.96"> 455</tspan></text>
<text fill="#4E4E4E" stroke="#4E4E4E" stroke-width="0.45" stroke-linejoin="round" transform="rotate(-90 645.65 1743.1)"><tspan x="550.95" y="1743.1" font-size="23.96" textLength="14.7" lengthAdjust="spacingAndGlyphs">V</tspan><tspan x="565.65" y="1743.1" font-size="23.96" textLength="22.14" lengthAdjust="spacingAndGlyphs">M</tspan><tspan x="587.79" y="1743.1" font-size="23.96" textLength="12.62" lengthAdjust="spacingAndGlyphs">T</tspan><tspan x="600.02 606.17 619.3 632.42" y="1743.1" font-size="23.96"> 677</tspan></text>
<text fill="#4E4E4E" stroke="#4E4E4E" stroke-width="0.45" stroke-linejoin="round" transform="rotate(-90 680.35 1743.1)"><tspan x="585.65" y="1743.1" font-size="23.96" textLength="14.7" lengthAdjust="spacingAndGlyphs">V</tspan><tspan x="600.35" y="1743.1" font-size="23.96" textLength="22.14" lengthAdjust="spacingAndGlyphs">M</tspan><tspan x="622.49" y="1743.1" font-size="23.96" textLength="12.62" lengthAdjust="spacingAndGlyphs">T</tspan><tspan x="634.72 640.87 654 667.12" y="1743.1" font-size="23.96"> 677</tspan></text>
<text fill="#4E4E4E" stroke="#4E4E4E" stroke-width="0.45" stroke-linejoin="round" transform="rotate(-90 715.05 1743.1)"><tspan x="620.35" y="1743.1" font-size="23.96" textLength="14.7" lengthAdjust="spacingAndGlyphs">V</tspan><tspan x="635.05" y="1743.1" font-size="23.96" textLength="22.14" lengthAdjust="spacingAndGlyphs">M</tspan><tspan x="657.19" y="1743.1" font-size="23.96" textLength="12.62" lengthAdjust="spacingAndGlyphs">T</tspan><tspan x="669.42 675.57 688.7 701.82" y="1743.1" font-size="23.96"> 677</tspan></text>
<text fill="#4E4E4E" stroke="#4E4E4E" stroke-width="0.45" stroke-linejoin="round" transform="rotate(-90 749.75 1743.1)"><tspan x="655.05" y="1743.1" font-size="23.96" textLength="14.7" lengthAdjust="spacingAndGlyphs">V</tspan><tspan x="669.75" y="1743.1" font-size="23.96" textLength="22.14" lengthAdjust="spacingAndGlyphs">M</tspan><tspan x="691.89" y="1743.1" font-size="23.96" textLength="12.62" lengthAdjust="spacingAndGlyphs">T</tspan><tspan x="704.12 710.27 723.4 736.52" y="1743.1" font-size="23.96"> 707</tspan></text>
<text fill="#4E4E4E" stroke="#4E4E4E" stroke-width="0.45" stroke-linejoin="round" transform="rotate(-90 784.45 1743.1)"><tspan x="689.75" y="1743.1" font-size="23.96" textLength="14.7" lengthAdjust="spacingAndGlyphs">V</tspan><tspan x="704.45" y="1743.1" font-size="23.96" textLength="22.14" lengthAdjust="spacingAndGlyphs">M</tspan><tspan x="726.59" y="1743.1" font-size="23.96" textLength="12.62" lengthAdjust="spacingAndGlyphs">T</tspan><tspan x="738.82 744.97 758.1 771.22" y="1743.1" font-size="23.96"> 707</tspan></text>
<text fill="#4E4E4E" stroke="#4E4E4E" stroke-width="0.45" stroke-linejoin="round" transform="rotate(-90 819.15 1743.1)"><tspan x="724.45" y="1743.1" font-size="23.96" textLength="14.7" lengthAdjust="spacingAndGlyphs">V</tspan><tspan x="739.15" y="1743.1" font-size="23.96" textLength="22.14" lengthAdjust="spacingAndGlyphs">M</tspan><tspan x="761.29" y="1743.1" font-size="23.96" textLength="12.62" lengthAdjust="spacingAndGlyphs">T</tspan><tspan x="773.52 779.67 792.8 805.92" y="1743.1" font-size="23.96"> 763</tspan></text>
<text fill="#4E4E4E" stroke="#4E4E4E" stroke-width="0.45" stroke-linejoin="round" transform="rotate(-90 853.85 1743.1)"><tspan x="759.15" y="1743.1" font-size="23.96" textLength="14.7" lengthAdjust="spacingAndGlyphs">V</tspan><tspan x="773.85" y="1743.1" font-size="23.96" textLength="22.14" lengthAdjust="spacingAndGlyphs">M</tspan><tspan x="795.99" y="1743.1" font-size="23.96" textLength="12.62" lengthAdjust="spacingAndGlyphs">T</tspan><tspan x="808.22 814.37 827.5 840.62" y="1743.1" font-size="23.96"> 763</tspan></text>
<text fill="#4E4E4E" stroke="#4E4E4E" stroke-width="0.45" stroke-linejoin="round" transform="rotate(-90 888.55 1743.1)"><tspan x="793.95" y="1743.1" font-size="23.96" textLength="11.9" lengthAdjust="spacingAndGlyphs">S</tspan><tspan x="805.85" y="1743.1" font-size="23.96" textLength="10.89" lengthAdjust="spacingAndGlyphs">L</tspan><tspan x="816.73" y="1743.1" font-size="23.96" textLength="13.46" lengthAdjust="spacingAndGlyphs">K</tspan><tspan x="829.79 835.95 849.07 862.2 875.32" y="1743.1" font-size="23.96"> 2000</tspan></text>
<text fill="#4E4E4E" stroke="#4E4E4E" stroke-width="0.45" stroke-linejoin="round" transform="rotate(-90 923.25 1743.1)"><tspan x="828.65" y="1743.1" font-size="23.96" textLength="11.9" lengthAdjust="spacingAndGlyphs">S</tspan><tspan x="840.55" y="1743.1" font-size="23.96" textLength="10.89" lengthAdjust="spacingAndGlyphs">L</tspan><tspan x="851.43" y="1743.1" font-size="23.96" textLength="13.46" lengthAdjust="spacingAndGlyphs">K</tspan><tspan x="864.49 870.65 883.77 896.9 910.02" y="1743.1" font-size="23.96"> 2000</tspan></text>
<text fill="#4E4E4E" stroke="#4E4E4E" stroke-width="0.45" stroke-linejoin="round" transform="rotate(-90 957.95 1743.1)"><tspan x="863.35" y="1743.1" font-size="23.96" textLength="11.9" lengthAdjust="spacingAndGlyphs">S</tspan><tspan x="875.25" y="1743.1" font-size="23.96" textLength="10.89" lengthAdjust="spacingAndGlyphs">L</tspan><tspan x="886.13" y="1743.1" font-size="23.96" textLength="13.46" lengthAdjust="spacingAndGlyphs">K</tspan><tspan x="899.19 905.35 918.47 931.6 944.72" y="1743.1" font-size="23.96"> 2001</tspan></text>
<text fill="#4E4E4E" stroke="#4E4E4E" stroke-width="0.45" stroke-linejoin="round" transform="rotate(-90 992.65 1743.1)"><tspan x="898.05" y="1743.1" font-size="23.96" textLength="11.9" lengthAdjust="spacingAndGlyphs">S</tspan><tspan x="909.95" y="1743.1" font-size="23.96" textLength="10.89" lengthAdjust="spacingAndGlyphs">L</tspan><tspan x="920.83" y="1743.1" font-size="23.96" textLength="13.46" lengthAdjust="spacingAndGlyphs">K</tspan><tspan x="933.89 940.05 953.17 966.3 979.42" y="1743.1" font-size="23.96"> 2001</tspan></text>
<text fill="#4E4E4E" stroke="#4E4E4E" stroke-width="0.45" stroke-linejoin="round" transform="rotate(-90 1027.35 1743.1)"><tspan x="932.75" y="1743.1" font-size="23.96" textLength="11.9" lengthAdjust="spacingAndGlyphs">S</tspan><tspan x="944.65" y="1743.1" font-size="23.96" textLength="10.89" lengthAdjust="spacingAndGlyphs">L</tspan><tspan x="955.53" y="1743.1" font-size="23.96" textLength="13.46" lengthAdjust="spacingAndGlyphs">K</tspan><tspan x="968.59 974.75 987.87 1001 1014.12" y="1743.1" font-size="23.96"> 2259</tspan></text>
<text fill="#4E4E4E" stroke="#4E4E4E" stroke-width="0.45" stroke-linejoin="round" transform="rotate(-90 1062.05 1743.1)"><tspan x="967.45" y="1743.1" font-size="23.96" textLength="11.9" lengthAdjust="spacingAndGlyphs">S</tspan><tspan x="979.35" y="1743.1" font-size="23.96" textLength="10.89" lengthAdjust="spacingAndGlyphs">L</tspan><tspan x="990.23" y="1743.1" font-size="23.96" textLength="13.46" lengthAdjust="spacingAndGlyphs">K</tspan><tspan x="1003.29 1009.45 1022.57 1035.7 1048.82" y="1743.1" font-size="23.96"> 2259</tspan></text>
<text fill="#4E4E4E" stroke="#4E4E4E" stroke-width="0.45" stroke-linejoin="round" transform="rotate(-90 1096.75 1743.1)"><tspan x="1001.79" y="1743.1" font-size="23.96" textLength="11.9" lengthAdjust="spacingAndGlyphs">S</tspan><tspan x="1013.69" y="1743.1" font-size="23.96" textLength="10.89" lengthAdjust="spacingAndGlyphs">L</tspan><tspan x="1024.58" y="1743.1" font-size="23.96" textLength="13.81" lengthAdjust="spacingAndGlyphs">C</tspan><tspan x="1037.99 1044.15 1057.27 1070.4 1083.52" y="1743.1" font-size="23.96"> 3497</tspan></text>
<text fill="#4E4E4E" stroke="#4E4E4E" stroke-width="0.45" stroke-linejoin="round" transform="rotate(-90 1131.45 1743.1)"><tspan x="1036.49" y="1743.1" font-size="23.96" textLength="11.9" lengthAdjust="spacingAndGlyphs">S</tspan><tspan x="1048.39" y="1743.1" font-size="23.96" textLength="10.89" lengthAdjust="spacingAndGlyphs">L</tspan><tspan x="1059.28" y="1743.1" font-size="23.96" textLength="13.81" lengthAdjust="spacingAndGlyphs">C</tspan><tspan x="1072.69 1078.85 1091.97 1105.1 1118.22" y="1743.1" font-size="23.96"> 3497</tspan></text>
<text fill="#4E4E4E" stroke="#4E4E4E" stroke-width="0.45" stroke-linejoin="round" transform="rotate(-90 1166.15 1743.1)"><tspan x="1071.19" y="1743.1" font-size="23.96" textLength="11.9" lengthAdjust="spacingAndGlyphs">S</tspan><tspan x="1083.09" y="1743.1" font-size="23.96" textLength="10.89" lengthAdjust="spacingAndGlyphs">L</tspan><tspan x="1093.98" y="1743.1" font-size="23.96" textLength="13.81" lengthAdjust="spacingAndGlyphs">C</tspan><tspan x="1107.39 1113.55 1126.67 1139.8 1152.92" y="1743.1" font-size="23.96"> 4147</tspan></text>
<text fill="#4E4E4E" stroke="#4E4E4E" stroke-width="0.45" stroke-linejoin="round" transform="rotate(-90 1200.85 1743.1)"><tspan x="1105.89" y="1743.1" font-size="23.96" textLength="11.9" lengthAdjust="spacingAndGlyphs">S</tspan><tspan x="1117.79" y="1743.1" font-size="23.96" textLength="10.89" lengthAdjust="spacingAndGlyphs">L</tspan><tspan x="1128.68" y="1743.1" font-size="23.96" textLength="13.81" lengthAdjust="spacingAndGlyphs">C</tspan><tspan x="1142.09 1148.25 1161.37 1174.5 1187.62" y="1743.1" font-size="23.96"> 4147</tspan></text>
<text fill="#000000"><tspan x="1161.5" y="102" font-size="61" textLength="29.18" lengthAdjust="spacingAndGlyphs">a</tspan><tspan x="1197.53" y="101.06" font-size="63.01" textLength="15.32" lengthAdjust="spacingAndGlyphs">)</tspan></text>
<text fill="#000000"><tspan x="1148.34" y="688.5" font-size="61" textLength="33.27" lengthAdjust="spacingAndGlyphs">b</tspan><tspan x="1185.94" y="687.46" font-size="62.04" textLength="14.95" lengthAdjust="spacingAndGlyphs">)</tspan></text>
<text fill="#000000"><tspan x="1151.72" y="1221.3" font-size="61" textLength="26.79" lengthAdjust="spacingAndGlyphs">c</tspan><tspan x="1182.43" y="1219.51" font-size="62.26" textLength="15.32" lengthAdjust="spacingAndGlyphs">)</tspan></text>
<text fill="#000000" stroke="#FFFFFF" stroke-width="0.8"><tspan x="362.32" y="1909" font-size="37.4" textLength="178.16" lengthAdjust="spacingAndGlyphs">Instrument</tspan><tspan font-size="18.7"> </tspan><tspan x="551.87" y="1909" font-size="37.4" textLength="103.67" lengthAdjust="spacingAndGlyphs">model</tspan><tspan font-size="18.7"> </tspan><tspan x="663.71" y="1909" font-size="37.4" textLength="24.35" lengthAdjust="spacingAndGlyphs">&amp;</tspan><tspan font-size="18.7"> </tspan><tspan x="698.4" y="1909" font-size="37.4" textLength="85.8" lengthAdjust="spacingAndGlyphs">serial</tspan><tspan font-size="18.7"> </tspan><tspan x="792.51" y="1909" font-size="37.4" textLength="127.32" lengthAdjust="spacingAndGlyphs">number</tspan></text>
<rect x="1261.7" y="22.6" width="1196.3" height="840.6" fill="#FFFFFF"/>
<line x1="1388.9" y1="48" x2="1388.9" y2="743" stroke="#D6D6D6" stroke-width="1.5"/>
<line x1="1492.24" y1="48" x2="1492.24" y2="743" stroke="#D6D6D6" stroke-width="1.5"/>
<line x1="1595.58" y1="48" x2="1595.58" y2="743" stroke="#D6D6D6" stroke-width="1.5"/>
<line x1="1698.92" y1="48" x2="1698.92" y2="743" stroke="#D6D6D6" stroke-width="1.5"/>
<line x1="1802.26" y1="48" x2="1802.26" y2="743" stroke="#D6D6D6" stroke-width="1.5"/>
<line x1="1905.6" y1="48" x2="1905.6" y2="743" stroke="#D6D6D6" stroke-width="1.5"/>
<line x1="2008.94" y1="48" x2="2008.94" y2="743" stroke="#D6D6D6" stroke-width="1.5"/>
<line x1="2112.28" y1="48" x2="2112.28" y2="743" stroke="#D6D6D6" stroke-width="1.5"/>
<line x1="2215.62" y1="48" x2="2215.62" y2="743" stroke="#D6D6D6" stroke-width="1.5"/>
<line x1="2318.96" y1="48" x2="2318.96" y2="743" stroke="#D6D6D6" stroke-width="1.5"/>
<line x1="2422.3" y1="48" x2="2422.3" y2="743" stroke="#D6D6D6" stroke-width="1.5"/>
<line x1="1388.9" y1="48.8" x2="2422.3" y2="48.8" stroke="#D2D2D2" stroke-width="1.9"/>
<line x1="1388.9" y1="118" x2="2422.3" y2="118" stroke="#D2D2D2" stroke-width="1.9"/>
<line x1="1388.9" y1="187.5" x2="2422.3" y2="187.5" stroke="#D2D2D2" stroke-width="1.9"/>
<line x1="1388.9" y1="257" x2="2422.3" y2="257" stroke="#D2D2D2" stroke-width="1.9"/>
<line x1="1388.9" y1="326.2" x2="2422.3" y2="326.2" stroke="#D2D2D2" stroke-width="1.9"/>
<line x1="1388.9" y1="395.9" x2="2422.3" y2="395.9" stroke="#D2D2D2" stroke-width="1.9"/>
<line x1="1388.9" y1="465.4" x2="2422.3" y2="465.4" stroke="#D2D2D2" stroke-width="1.9"/>
<line x1="1388.9" y1="534.4" x2="2422.3" y2="534.4" stroke="#D2D2D2" stroke-width="1.9"/>
<line x1="1388.9" y1="603.7" x2="2422.3" y2="603.7" stroke="#D2D2D2" stroke-width="1.9"/>
<line x1="1388.9" y1="673.2" x2="2422.3" y2="673.2" stroke="#D2D2D2" stroke-width="1.9"/>
<line x1="1388.9" y1="742.3" x2="2422.3" y2="742.3" stroke="#D2D2D2" stroke-width="1.9"/>
<line x1="1388.9" y1="534.4" x2="2422.3" y2="534.4" stroke="#B4B4B4" stroke-width="1.5"/>
<line x1="1388.9" y1="48" x2="1388.9" y2="743" stroke="#C4C4C4" stroke-width="1.5"/>
<text fill="#4E4E4E" stroke="#4E4E4E" stroke-width="0.45" stroke-linejoin="round"><tspan x="1339.26 1352.08" y="56.4" font-size="23.4">70</tspan></text>
<text fill="#4E4E4E" stroke="#4E4E4E" stroke-width="0.45" stroke-linejoin="round"><tspan x="1339.26 1352.08" y="125.6" font-size="23.4">60</tspan></text>
<text fill="#4E4E4E" stroke="#4E4E4E" stroke-width="0.45" stroke-linejoin="round"><tspan x="1339.26 1352.08" y="195.1" font-size="23.4">50</tspan></text>
<text fill="#4E4E4E" stroke="#4E4E4E" stroke-width="0.45" stroke-linejoin="round"><tspan x="1339.26 1352.08" y="264.6" font-size="23.4">40</tspan></text>
<text fill="#4E4E4E" stroke="#4E4E4E" stroke-width="0.45" stroke-linejoin="round"><tspan x="1339.26 1352.08" y="333.8" font-size="23.4">30</tspan></text>
<text fill="#4E4E4E" stroke="#4E4E4E" stroke-width="0.45" stroke-linejoin="round"><tspan x="1339.26 1352.08" y="403.5" font-size="23.4">20</tspan></text>
<text fill="#4E4E4E" stroke="#4E4E4E" stroke-width="0.45" stroke-linejoin="round"><tspan x="1339.26 1352.08" y="473" font-size="23.4">10</tspan></text>
<text fill="#4E4E4E" stroke="#4E4E4E" stroke-width="0.45" stroke-linejoin="round"><tspan x="1352.08" y="542" font-size="23.4">0</tspan></text>
<text fill="#4E4E4E" stroke="#4E4E4E" stroke-width="0.45" stroke-linejoin="round"><tspan x="1331.59 1339.26 1352.08" y="611.3" font-size="23.4">-10</tspan></text>
<text fill="#4E4E4E" stroke="#4E4E4E" stroke-width="0.45" stroke-linejoin="round"><tspan x="1331.59 1339.26 1352.08" y="680.8" font-size="23.4">-20</tspan></text>
<text fill="#4E4E4E" stroke="#4E4E4E" stroke-width="0.45" stroke-linejoin="round"><tspan x="1331.59 1339.26 1352.08" y="749.9" font-size="23.4">-30</tspan></text>
<text fill="#4E4E4E" stroke="#4E4E4E" stroke-width="0.45" stroke-linejoin="round"><tspan x="1382.19" y="783.3" font-size="23.4">0</tspan></text>
<text fill="#4E4E4E" stroke="#4E4E4E" stroke-width="0.45" stroke-linejoin="round"><tspan x="1485.53" y="783.3" font-size="23.4">1</tspan></text>
<text fill="#4E4E4E" stroke="#4E4E4E" stroke-width="0.45" stroke-linejoin="round"><tspan x="1588.87" y="783.3" font-size="23.4">2</tspan></text>
<text fill="#4E4E4E" stroke="#4E4E4E" stroke-width="0.45" stroke-linejoin="round"><tspan x="1692.21" y="783.3" font-size="23.4">3</tspan></text>
<text fill="#4E4E4E" stroke="#4E4E4E" stroke-width="0.45" stroke-linejoin="round"><tspan x="1795.55" y="783.3" font-size="23.4">4</tspan></text>
<text fill="#4E4E4E" stroke="#4E4E4E" stroke-width="0.45" stroke-linejoin="round"><tspan x="1898.89" y="783.3" font-size="23.4">5</tspan></text>
<text fill="#4E4E4E" stroke="#4E4E4E" stroke-width="0.45" stroke-linejoin="round"><tspan x="2002.23" y="783.3" font-size="23.4">6</tspan></text>
<text fill="#4E4E4E" stroke="#4E4E4E" stroke-width="0.45" stroke-linejoin="round"><tspan x="2105.57" y="783.3" font-size="23.4">7</tspan></text>
<text fill="#4E4E4E" stroke="#4E4E4E" stroke-width="0.45" stroke-linejoin="round"><tspan x="2208.91" y="783.3" font-size="23.4">8</tspan></text>
<text fill="#4E4E4E" stroke="#4E4E4E" stroke-width="0.45" stroke-linejoin="round"><tspan x="2312.25" y="783.3" font-size="23.4">9</tspan></text>
<text fill="#4E4E4E" stroke="#4E4E4E" stroke-width="0.45" stroke-linejoin="round"><tspan x="2409.18 2422" y="783.3" font-size="23.4">10</tspan></text>
<text fill="#4E4E4E" stroke="#4E4E4E" stroke-width="0.5" stroke-linejoin="round"><tspan x="1748.92" y="832" font-size="27.48" textLength="15.93" lengthAdjust="spacingAndGlyphs">C</tspan><tspan x="1764.85" y="832" font-size="27.48" textLength="14.31" lengthAdjust="spacingAndGlyphs">a</tspan><tspan x="1779.16" y="832" font-size="27.48" textLength="6.86" lengthAdjust="spacingAndGlyphs">l</tspan><tspan x="1786.01" y="832" font-size="27.48" textLength="6.86" lengthAdjust="spacingAndGlyphs">i</tspan><tspan x="1793.07" y="832" font-size="27.48">b</tspan><tspan x="1808.56" y="832" font-size="27.48" textLength="10.41" lengthAdjust="spacingAndGlyphs">r</tspan><tspan x="1818.97" y="832" font-size="27.48" textLength="14.31" lengthAdjust="spacingAndGlyphs">a</tspan><tspan x="1833.86" y="832" font-size="27.48" textLength="8.86" lengthAdjust="spacingAndGlyphs">t</tspan><tspan x="1843.29" y="832" font-size="27.48" textLength="6.86" lengthAdjust="spacingAndGlyphs">i</tspan><tspan x="1850.38 1866.1 1881.15" y="832" font-size="27.48">on </tspan><tspan x="1888.34" y="832" font-size="27.48" textLength="6.86" lengthAdjust="spacingAndGlyphs">i</tspan><tspan x="1895.4" y="832" font-size="27.48">n</tspan><tspan x="1911.46" y="832" font-size="27.48" textLength="8.86" lengthAdjust="spacingAndGlyphs">t</tspan><tspan x="1920.68" y="832" font-size="27.48">e</tspan><tspan x="1935.76" y="832" font-size="27.48" textLength="10.41" lengthAdjust="spacingAndGlyphs">r</tspan><tspan x="1946.05" y="832" font-size="27.48">v</tspan><tspan x="1959.66" y="832" font-size="27.48" textLength="14.31" lengthAdjust="spacingAndGlyphs">a</tspan><tspan x="1973.97" y="832" font-size="27.48" textLength="6.86" lengthAdjust="spacingAndGlyphs">l</tspan><tspan x="1980.39 1987.53 1996.53 2009.95" y="832" font-size="27.48"> (ye</tspan><tspan x="2025.02" y="832" font-size="27.48" textLength="14.31" lengthAdjust="spacingAndGlyphs">a</tspan><tspan x="2039.33" y="832" font-size="27.48" textLength="10.41" lengthAdjust="spacingAndGlyphs">r</tspan><tspan x="2049.74" y="832" font-size="27.48" textLength="11.68" lengthAdjust="spacingAndGlyphs">s</tspan><tspan x="2061.37" y="832" font-size="27.48">)</tspan></text>
<text fill="#4E4E4E" stroke="#4E4E4E" stroke-width="0.5" stroke-linejoin="round" transform="rotate(-90 1316.4 396.1)"><tspan x="1049.96" y="396.1" font-size="27.48" textLength="15.43" lengthAdjust="spacingAndGlyphs">P</tspan><tspan x="1065.18" y="396.1" font-size="27.48">e</tspan><tspan x="1080.26" y="396.1" font-size="27.48" textLength="10.41" lengthAdjust="spacingAndGlyphs">r</tspan><tspan x="1090.67" y="396.1" font-size="27.48" textLength="12.63" lengthAdjust="spacingAndGlyphs">c</tspan><tspan x="1103.09 1118.37" y="396.1" font-size="27.48">en</tspan><tspan x="1134.43" y="396.1" font-size="27.48" textLength="8.86" lengthAdjust="spacingAndGlyphs">t</tspan><tspan x="1143.42 1150.82" y="396.1" font-size="27.48"> d</tspan><tspan x="1166.31" y="396.1" font-size="27.48" textLength="6.86" lengthAdjust="spacingAndGlyphs">i</tspan><tspan x="1173.3" y="396.1" font-size="27.48" textLength="8.86" lengthAdjust="spacingAndGlyphs">f</tspan><tspan x="1182.41" y="396.1" font-size="27.48" textLength="8.86" lengthAdjust="spacingAndGlyphs">f</tspan><tspan x="1191.19" y="396.1" font-size="27.48">e</tspan><tspan x="1206.26" y="396.1" font-size="27.48" textLength="10.41" lengthAdjust="spacingAndGlyphs">r</tspan><tspan x="1216.46 1231.74" y="396.1" font-size="27.48">en</tspan><tspan x="1247.23" y="396.1" font-size="27.48" textLength="12.63" lengthAdjust="spacingAndGlyphs">c</tspan><tspan x="1259.65 1274.29 1281.69 1296.96" y="396.1" font-size="27.48">e be</tspan><tspan x="1312.61" y="396.1" font-size="27.48" textLength="8.86" lengthAdjust="spacingAndGlyphs">t</tspan><tspan x="1322.04" y="396.1" font-size="27.48" textLength="21.35" lengthAdjust="spacingAndGlyphs">w</tspan><tspan x="1343.18 1358.05 1373.33 1388.38" y="396.1" font-size="27.48">een </tspan><tspan x="1395.57" y="396.1" font-size="27.48" textLength="12.63" lengthAdjust="spacingAndGlyphs">c</tspan><tspan x="1408.2" y="396.1" font-size="27.48" textLength="14.31" lengthAdjust="spacingAndGlyphs">a</tspan><tspan x="1422.51" y="396.1" font-size="27.48" textLength="6.86" lengthAdjust="spacingAndGlyphs">l</tspan><tspan x="1429.36" y="396.1" font-size="27.48" textLength="6.86" lengthAdjust="spacingAndGlyphs">i</tspan><tspan x="1436.42" y="396.1" font-size="27.48">b</tspan><tspan x="1451.91" y="396.1" font-size="27.48" textLength="10.41" lengthAdjust="spacingAndGlyphs">r</tspan><tspan x="1462.33" y="396.1" font-size="27.48" textLength="14.31" lengthAdjust="spacingAndGlyphs">a</tspan><tspan x="1477.21" y="396.1" font-size="27.48" textLength="8.86" lengthAdjust="spacingAndGlyphs">t</tspan><tspan x="1486.64" y="396.1" font-size="27.48" textLength="6.86" lengthAdjust="spacingAndGlyphs">i</tspan><tspan x="1493.73 1509.45" y="396.1" font-size="27.48">on</tspan><tspan x="1524.94" y="396.1" font-size="27.48" textLength="11.68" lengthAdjust="spacingAndGlyphs">s</tspan><tspan x="1536.18 1543.33" y="396.1" font-size="27.48"> (</tspan><tspan x="1552.43" y="396.1" font-size="27.48" textLength="21.35" lengthAdjust="spacingAndGlyphs">%</tspan><tspan x="1573.74" y="396.1" font-size="27.48">)</tspan></text>
<text fill="#000000"><tspan x="1416.93" y="103" font-size="61" textLength="32.77" lengthAdjust="spacingAndGlyphs">d</tspan><tspan x="1454.73" y="101.32" font-size="61.72" textLength="15.07" lengthAdjust="spacingAndGlyphs">)</tspan></text>
<rect x="1936.8" y="62.4" width="437.8" height="49.5" fill="#FFFFFF" stroke="#1E1E1E" stroke-width="2"/>
<circle cx="1973.4" cy="87.4" r="8.6" fill="#5B9BD5"/>
<text fill="#4E4E4E" stroke="#4E4E4E" stroke-width="0.5" stroke-linejoin="round"><tspan x="1989.41" y="96.5" font-size="27.88" textLength="16.16" lengthAdjust="spacingAndGlyphs">C</tspan><tspan x="2005.77" y="96.5" font-size="27.88">h</tspan><tspan x="2021.48" y="96.5" font-size="27.88" textLength="6.95" lengthAdjust="spacingAndGlyphs">l</tspan><tspan x="2027.99" y="96.5" font-size="27.88"> </tspan><tspan x="2035.29" y="96.5" font-size="27.88" textLength="13.92" lengthAdjust="spacingAndGlyphs">F</tspan><tspan x="2049.21" y="96.5" font-size="27.88" textLength="12.74" lengthAdjust="spacingAndGlyphs">L</tspan><tspan x="2061.6" y="96.5" font-size="27.88">U</tspan></text>
<circle cx="2116.4" cy="87.4" r="8.9" fill="#ED7D31"/>
<text fill="#4E4E4E" stroke="#4E4E4E" stroke-width="0.5" stroke-linejoin="round"><tspan x="2131.68" y="96.5" font-size="27.88" textLength="13.92" lengthAdjust="spacingAndGlyphs">S</tspan><tspan x="2145.61" y="96.5" font-size="27.88" textLength="12.81" lengthAdjust="spacingAndGlyphs">c</tspan><tspan x="2158.42" y="96.5" font-size="27.88" textLength="14.51" lengthAdjust="spacingAndGlyphs">a</tspan><tspan x="2173.52" y="96.5" font-size="27.88" textLength="8.98" lengthAdjust="spacingAndGlyphs">t</tspan><tspan x="2183.67" y="96.5" font-size="27.88" textLength="8.98" lengthAdjust="spacingAndGlyphs">t</tspan><tspan x="2193.02" y="96.5" font-size="27.88">e</tspan><tspan x="2208.31" y="96.5" font-size="27.88" textLength="10.56" lengthAdjust="spacingAndGlyphs">r</tspan></text>
<circle cx="2253.6" cy="87.4" r="8.1" fill="#92D050" stroke="#A6A3A8" stroke-width="1.7"/>
<text fill="#4E4E4E" stroke="#4E4E4E" stroke-width="0.5" stroke-linejoin="round"><tspan x="2276.31" y="96.5" font-size="27.88" textLength="16.16" lengthAdjust="spacingAndGlyphs">C</tspan><tspan x="2292.47" y="96.5" font-size="27.88" textLength="18.64" lengthAdjust="spacingAndGlyphs">D</tspan><tspan x="2311.11" y="96.5" font-size="27.88" textLength="20.06" lengthAdjust="spacingAndGlyphs">O</tspan><tspan x="2331.17" y="96.5" font-size="27.88" textLength="25.91" lengthAdjust="spacingAndGlyphs">M</tspan></text>
<circle cx="1768.4" cy="472.6" r="8.6" fill="#5B9BD5"/>
<circle cx="1561.5" cy="496.2" r="8.6" fill="#5B9BD5"/>
<circle cx="1638.5" cy="508.5" r="8.6" fill="#5B9BD5"/>
<circle cx="1647.3" cy="513.2" r="8.6" fill="#5B9BD5"/>
<circle cx="1706.8" cy="511.4" r="8.6" fill="#5B9BD5"/>
<circle cx="1836.3" cy="514.9" r="8.6" fill="#5B9BD5"/>
<circle cx="1551.8" cy="515.2" r="8.6" fill="#5B9BD5"/>
<circle cx="1706.8" cy="523.2" r="8.6" fill="#5B9BD5"/>
<circle cx="1638.5" cy="524.9" r="8.6" fill="#5B9BD5"/>
<circle cx="1612.7" cy="529" r="8.6" fill="#5B9BD5"/>
<circle cx="1768.4" cy="574.7" r="8.6" fill="#5B9BD5"/>
<circle cx="1991.3" cy="524.9" r="8.6" fill="#5B9BD5"/>
<circle cx="1931.2" cy="551.9" r="8.6" fill="#5B9BD5"/>
<circle cx="1905.4" cy="562.7" r="8.6" fill="#5B9BD5"/>
<circle cx="2301" cy="534.3" r="8" fill="#5B9BD5" stroke="#D9D9D9" stroke-width="1.4"/>
<circle cx="1706.8" cy="91.4" r="8.9" fill="#ED7D31"/>
<circle cx="1638.5" cy="288.4" r="8.9" fill="#ED7D31"/>
<circle cx="1990.7" cy="269.9" r="8.9" fill="#ED7D31"/>
<circle cx="1767.8" cy="488.6" r="8.9" fill="#ED7D31"/>
<circle cx="1767.8" cy="528.1" r="8.9" fill="#ED7D31"/>
<circle cx="1561.5" cy="531.6" r="8.9" fill="#ED7D31"/>
<circle cx="1551.8" cy="549.8" r="8.9" fill="#ED7D31"/>
<circle cx="1836" cy="547.5" r="8.9" fill="#ED7D31"/>
<circle cx="1612.7" cy="559.8" r="8.9" fill="#ED7D31"/>
<circle cx="1638.5" cy="585.3" r="8.9" fill="#ED7D31"/>
<circle cx="1647" cy="589.1" r="8.9" fill="#ED7D31"/>
<circle cx="1706.8" cy="634.2" r="8.9" fill="#ED7D31"/>
<circle cx="2301" cy="500.6" r="8.9" fill="#ED7D31"/>
<circle cx="1905.1" cy="530.8" r="8.9" fill="#ED7D31"/>
<circle cx="1930.9" cy="540.4" r="8.9" fill="#ED7D31"/>
<circle cx="1638.5" cy="337" r="8.1" fill="#92D050" stroke="#A6A3A8" stroke-width="1.7"/>
<circle cx="1706.8" cy="378" r="8.1" fill="#92D050" stroke="#A6A3A8" stroke-width="1.7"/>
<circle cx="1647" cy="403.2" r="8.1" fill="#92D050" stroke="#A6A3A8" stroke-width="1.7"/>
<circle cx="1706.8" cy="454.7" r="8.1" fill="#92D050" stroke="#A6A3A8" stroke-width="1.7"/>
<circle cx="1836" cy="472" r="8.1" fill="#92D050" stroke="#A6A3A8" stroke-width="1.7"/>
<circle cx="1612.7" cy="488.3" r="8.1" fill="#92D050" stroke="#A6A3A8" stroke-width="1.7"/>
<circle cx="1551.8" cy="531.1" r="8.1" fill="#92D050" stroke="#A6A3A8" stroke-width="1.7"/>
<circle cx="1638.5" cy="538.4" r="8.1" fill="#92D050" stroke="#A6A3A8" stroke-width="1.7"/>
<circle cx="1767.8" cy="559.5" r="8.1" fill="#92D050" stroke="#A6A3A8" stroke-width="1.7"/>
<circle cx="1561.2" cy="581.8" r="8.1" fill="#92D050" stroke="#A6A3A8" stroke-width="1.7"/>
<circle cx="1767.8" cy="608.7" r="8.1" fill="#92D050" stroke="#A6A3A8" stroke-width="1.7"/>
<circle cx="1905.1" cy="453.2" r="8.1" fill="#92D050" stroke="#A6A3A8" stroke-width="1.7"/>
<circle cx="1991" cy="513.2" r="8.1" fill="#92D050" stroke="#A6A3A8" stroke-width="1.7"/>
<circle cx="2301" cy="522.9" r="8.1" fill="#92D050" stroke="#A6A3A8" stroke-width="1.7"/>
<circle cx="1930.9" cy="670" r="8.1" fill="#92D050" stroke="#A6A3A8" stroke-width="1.7"/>
<rect x="1361.8" y="911.3" width="1024.6" height="935.7" fill="#FFFFFF"/>
<rect x="1887.5" y="917.6" width="484.3" height="214.4" fill="#FFFFFF" stroke="#000000" stroke-width="1.5"/>
<circle cx="1930.5" cy="948" r="7" fill="#FFFFFF" stroke="#000000" stroke-width="1.45"/>
<polygon points="1930.5,970.6 1937.7,983.42 1923.3,983.42" fill="#B3B3B3" stroke="#000000" stroke-width="1.45" stroke-linejoin="miter"/>
<line x1="1923" y1="1003" x2="1938" y2="1018" stroke="#000000" stroke-width="1.45"/>
<line x1="1923" y1="1018" x2="1938" y2="1003" stroke="#000000" stroke-width="1.45"/>
<rect x="1923.8" y="1034.5" width="13.4" height="13.4" fill="#FFFFFF" stroke="#000000" stroke-width="1.45"/>
<polygon points="1923.8,1034.5 1937.2,1034.5 1923.8,1047.9" fill="#000000"/>
<circle cx="1930.5" cy="1072" r="7.7" fill="#000000"/>
<line x1="1903.3" y1="1102.8" x2="1958" y2="1102.8" stroke="#000000" stroke-width="3"/>
<text x="1970" y="955.8" font-size="23" fill="#000000" textLength="374.5" lengthAdjust="spacingAndGlyphs"><tspan font-style="italic">Skeletonema dohrnii</tspan> (centric diatom)</text>
<text x="1970" y="986.8" font-size="23" fill="#000000" textLength="384.5" lengthAdjust="spacingAndGlyphs"><tspan font-style="italic">Nitzschia closterium</tspan> (pennate diatom)</text>
<text x="1970" y="1017.8" font-size="23" fill="#000000" textLength="309.6" lengthAdjust="spacingAndGlyphs"><tspan font-style="italic">Tetraselmis</tspan> sp. (prasinophyte)</text>
<text x="1970" y="1048.8" font-size="23" fill="#000000" textLength="329.5" lengthAdjust="spacingAndGlyphs"><tspan font-style="italic">Heterocapsa niei</tspan> (dinoflagellate)</text>
<text x="1970" y="1079.8" font-size="23" fill="#000000" textLength="363" lengthAdjust="spacingAndGlyphs"><tspan font-style="italic">Synechococcus</tspan> sp. (cyanobacteria)</text>
<text x="1970" y="1110.6" font-size="23" fill="#000000" textLength="245" lengthAdjust="spacingAndGlyphs">WET Labs Scale Factor</text>
<line x1="1470" y1="1154.8" x2="1470" y2="1744.7" stroke="#000000" stroke-width="1.9"/>
<line x1="1469.1" y1="1743.8" x2="2290.8" y2="1743.8" stroke="#000000" stroke-width="1.9"/>
<line x1="1460.8" y1="1743.8" x2="1470" y2="1743.8" stroke="#000000" stroke-width="1.8"/>
<text x="1449.6" y="1751.9" font-size="23" fill="#000000" text-anchor="end">0</text>
<line x1="1460.8" y1="1626.16" x2="1470" y2="1626.16" stroke="#000000" stroke-width="1.8"/>
<text x="1449.6" y="1634.26" font-size="23" fill="#000000" text-anchor="end">5</text>
<line x1="1460.8" y1="1508.52" x2="1470" y2="1508.52" stroke="#000000" stroke-width="1.8"/>
<text x="1449.6" y="1516.62" font-size="23" fill="#000000" text-anchor="end">0</text>
<line x1="1460.8" y1="1390.88" x2="1470" y2="1390.88" stroke="#000000" stroke-width="1.8"/>
<text x="1449.6" y="1398.98" font-size="23" fill="#000000" text-anchor="end">5</text>
<line x1="1460.8" y1="1273.24" x2="1470" y2="1273.24" stroke="#000000" stroke-width="1.8"/>
<text x="1449.6" y="1281.34" font-size="23" fill="#000000" text-anchor="end">20</text>
<line x1="1460.8" y1="1155.6" x2="1470" y2="1155.6" stroke="#000000" stroke-width="1.8"/>
<text x="1449.6" y="1163.7" font-size="23" fill="#000000" text-anchor="end">25</text>
<line x1="1470" y1="1743.8" x2="1470" y2="1752.6" stroke="#000000" stroke-width="1.8"/>
<text x="1469.4" y="1784.1" font-size="23" fill="#000000" text-anchor="middle">0</text>
<line x1="1572.49" y1="1743.8" x2="1572.49" y2="1752.6" stroke="#000000" stroke-width="1.8"/>
<text x="1571.89" y="1784.1" font-size="23" fill="#000000" text-anchor="middle">200</text>
<line x1="1674.98" y1="1743.8" x2="1674.98" y2="1752.6" stroke="#000000" stroke-width="1.8"/>
<text x="1674.38" y="1784.1" font-size="23" fill="#000000" text-anchor="middle">400</text>
<line x1="1777.46" y1="1743.8" x2="1777.46" y2="1752.6" stroke="#000000" stroke-width="1.8"/>
<text x="1776.86" y="1784.1" font-size="23" fill="#000000" text-anchor="middle">600</text>
<line x1="1879.95" y1="1743.8" x2="1879.95" y2="1752.6" stroke="#000000" stroke-width="1.8"/>
<text x="1879.35" y="1784.1" font-size="23" fill="#000000" text-anchor="middle">800</text>
<line x1="1982.44" y1="1743.8" x2="1982.44" y2="1752.6" stroke="#000000" stroke-width="1.8"/>
<text x="1981.84" y="1784.1" font-size="23" fill="#000000" text-anchor="middle">1000</text>
<line x1="2084.93" y1="1743.8" x2="2084.93" y2="1752.6" stroke="#000000" stroke-width="1.8"/>
<text x="2084.33" y="1784.1" font-size="23" fill="#000000" text-anchor="middle">1200</text>
<line x1="2187.41" y1="1743.8" x2="2187.41" y2="1752.6" stroke="#000000" stroke-width="1.8"/>
<text x="2186.81" y="1784.1" font-size="23" fill="#000000" text-anchor="middle">1400</text>
<line x1="2289.9" y1="1743.8" x2="2289.9" y2="1752.6" stroke="#000000" stroke-width="1.8"/>
<text x="2289.3" y="1784.1" font-size="23" fill="#000000" text-anchor="middle">1600</text>
<text x="1879.6" y="1834" font-size="28.5" fill="#000000" text-anchor="middle" textLength="221" lengthAdjust="spacingAndGlyphs">Instrument counts</text>
<text fill="#000000" transform="rotate(-90 1412.7 1585.7)"><tspan x="1411.14" y="1585.7" font-size="29" textLength="153.31" lengthAdjust="spacingAndGlyphs">Chlorophyll</tspan><tspan font-size="14.5"> </tspan><tspan x="1570.51" y="1585.7" font-size="29" textLength="19.49" lengthAdjust="spacingAndGlyphs" font-style="italic">a</tspan><tspan font-size="14.5"> </tspan><tspan x="1593.18" y="1585.7" font-size="29" textLength="70.53" lengthAdjust="spacingAndGlyphs">(µg/l</tspan><tspan x="1662.46" y="1575.26" font-size="17.98" textLength="14.75" lengthAdjust="spacingAndGlyphs">-1</tspan><tspan x="1678.1" y="1585.7" font-size="29" textLength="11.31" lengthAdjust="spacingAndGlyphs">)</tspan></text>
<text fill="#000000"><tspan x="1404.46" y="997.3" font-size="61" textLength="31.88" lengthAdjust="spacingAndGlyphs">e</tspan><tspan x="1440.63" y="995.3" font-size="61.83" textLength="15.32" lengthAdjust="spacingAndGlyphs">)</tspan></text>
<line x1="1468.5" y1="1743.8" x2="1471.5" y2="1743.8" stroke="#000000" stroke-width="1.45"/>
<line x1="1468.5" y1="1735.1" x2="1468.5" y2="1752.5" stroke="#000000" stroke-width="1.45"/>
<line x1="1471.5" y1="1735.1" x2="1471.5" y2="1752.5" stroke="#000000" stroke-width="1.45"/>
<line x1="1470" y1="1742.3" x2="1470" y2="1745.3" stroke="#000000" stroke-width="1.45"/>
<line x1="1461.3" y1="1742.3" x2="1478.7" y2="1742.3" stroke="#000000" stroke-width="1.45"/>
<line x1="1461.3" y1="1745.3" x2="1478.7" y2="1745.3" stroke="#000000" stroke-width="1.45"/>
<line x1="1492.5" y1="1725.6" x2="1497.5" y2="1725.6" stroke="#000000" stroke-width="1.45"/>
<line x1="1492.5" y1="1716.9" x2="1492.5" y2="1734.3" stroke="#000000" stroke-width="1.45"/>
<line x1="1497.5" y1="1716.9" x2="1497.5" y2="1734.3" stroke="#000000" stroke-width="1.45"/>
<line x1="1495" y1="1724.1" x2="1495" y2="1727.1" stroke="#000000" stroke-width="1.45"/>
<line x1="1486.3" y1="1724.1" x2="1503.7" y2="1724.1" stroke="#000000" stroke-width="1.45"/>
<line x1="1486.3" y1="1727.1" x2="1503.7" y2="1727.1" stroke="#000000" stroke-width="1.45"/>
<line x1="1559.1" y1="1679" x2="1566.1" y2="1679" stroke="#000000" stroke-width="1.45"/>
<line x1="1559.1" y1="1670.3" x2="1559.1" y2="1687.7" stroke="#000000" stroke-width="1.45"/>
<line x1="1566.1" y1="1670.3" x2="1566.1" y2="1687.7" stroke="#000000" stroke-width="1.45"/>
<line x1="1562.6" y1="1677.5" x2="1562.6" y2="1680.5" stroke="#000000" stroke-width="1.45"/>
<line x1="1553.9" y1="1677.5" x2="1571.3" y2="1677.5" stroke="#000000" stroke-width="1.45"/>
<line x1="1553.9" y1="1680.5" x2="1571.3" y2="1680.5" stroke="#000000" stroke-width="1.45"/>
<line x1="1647.2" y1="1615.8" x2="1654.2" y2="1615.8" stroke="#000000" stroke-width="1.45"/>
<line x1="1647.2" y1="1607.1" x2="1647.2" y2="1624.5" stroke="#000000" stroke-width="1.45"/>
<line x1="1654.2" y1="1607.1" x2="1654.2" y2="1624.5" stroke="#000000" stroke-width="1.45"/>
<line x1="1650.7" y1="1614.3" x2="1650.7" y2="1617.3" stroke="#000000" stroke-width="1.45"/>
<line x1="1642" y1="1614.3" x2="1659.4" y2="1614.3" stroke="#000000" stroke-width="1.45"/>
<line x1="1642" y1="1617.3" x2="1659.4" y2="1617.3" stroke="#000000" stroke-width="1.45"/>
<line x1="1809.1" y1="1496.4" x2="1822.9" y2="1496.4" stroke="#000000" stroke-width="1.45"/>
<line x1="1809.1" y1="1487.7" x2="1809.1" y2="1505.1" stroke="#000000" stroke-width="1.45"/>
<line x1="1822.9" y1="1487.7" x2="1822.9" y2="1505.1" stroke="#000000" stroke-width="1.45"/>
<line x1="1816" y1="1495.2" x2="1816" y2="1497.6" stroke="#000000" stroke-width="1.45"/>
<line x1="1807.3" y1="1495.2" x2="1824.7" y2="1495.2" stroke="#000000" stroke-width="1.45"/>
<line x1="1807.3" y1="1497.6" x2="1824.7" y2="1497.6" stroke="#000000" stroke-width="1.45"/>
<line x1="2199.4" y1="1257.8" x2="2219.8" y2="1257.8" stroke="#000000" stroke-width="1.45"/>
<line x1="2199.4" y1="1249.1" x2="2199.4" y2="1266.5" stroke="#000000" stroke-width="1.45"/>
<line x1="2219.8" y1="1249.1" x2="2219.8" y2="1266.5" stroke="#000000" stroke-width="1.45"/>
<line x1="2209.6" y1="1240.5" x2="2209.6" y2="1275.1" stroke="#000000" stroke-width="1.45"/>
<line x1="2200.9" y1="1240.5" x2="2218.3" y2="1240.5" stroke="#000000" stroke-width="1.45"/>
<line x1="2200.9" y1="1275.1" x2="2218.3" y2="1275.1" stroke="#000000" stroke-width="1.45"/>
<polyline points="1470,1743.8 1495,1725.6 1562.6,1679 1650.7,1615.8 2209.6,1257.8" fill="none" stroke="#000000" stroke-width="1.45" stroke-linejoin="round"/>
<circle cx="1470" cy="1743.8" r="6.1" fill="#FFFFFF" stroke="#000000" stroke-width="1.45"/>
<circle cx="1495" cy="1725.6" r="6.1" fill="#FFFFFF" stroke="#000000" stroke-width="1.45"/>
<circle cx="1562.6" cy="1679" r="6.1" fill="#FFFFFF" stroke="#000000" stroke-width="1.45"/>
<circle cx="1650.7" cy="1615.8" r="6.1" fill="#FFFFFF" stroke="#000000" stroke-width="1.45"/>
<circle cx="1816" cy="1496.4" r="6.1" fill="#FFFFFF" stroke="#000000" stroke-width="1.45"/>
<circle cx="2209.6" cy="1257.8" r="6.1" fill="#FFFFFF" stroke="#000000" stroke-width="1.45"/>
<line x1="1549.6" y1="1646.6" x2="1556.6" y2="1646.6" stroke="#000000" stroke-width="1.45"/>
<line x1="1549.6" y1="1637.9" x2="1549.6" y2="1655.3" stroke="#000000" stroke-width="1.45"/>
<line x1="1556.6" y1="1637.9" x2="1556.6" y2="1655.3" stroke="#000000" stroke-width="1.45"/>
<line x1="1553.1" y1="1645.1" x2="1553.1" y2="1648.1" stroke="#000000" stroke-width="1.45"/>
<line x1="1544.4" y1="1645.1" x2="1561.8" y2="1645.1" stroke="#000000" stroke-width="1.45"/>
<line x1="1544.4" y1="1648.1" x2="1561.8" y2="1648.1" stroke="#000000" stroke-width="1.45"/>
<line x1="1650.5" y1="1522.5" x2="1666.9" y2="1522.5" stroke="#000000" stroke-width="1.45"/>
<line x1="1650.5" y1="1513.8" x2="1650.5" y2="1531.2" stroke="#000000" stroke-width="1.45"/>
<line x1="1666.9" y1="1513.8" x2="1666.9" y2="1531.2" stroke="#000000" stroke-width="1.45"/>
<line x1="1658.7" y1="1521.7" x2="1658.7" y2="1523.3" stroke="#000000" stroke-width="1.45"/>
<line x1="1650" y1="1521.7" x2="1667.4" y2="1521.7" stroke="#000000" stroke-width="1.45"/>
<line x1="1650" y1="1523.3" x2="1667.4" y2="1523.3" stroke="#000000" stroke-width="1.45"/>
<line x1="1859.1" y1="1291.6" x2="1891.1" y2="1291.6" stroke="#000000" stroke-width="1.45"/>
<line x1="1859.1" y1="1282.9" x2="1859.1" y2="1300.3" stroke="#000000" stroke-width="1.45"/>
<line x1="1891.1" y1="1282.9" x2="1891.1" y2="1300.3" stroke="#000000" stroke-width="1.45"/>
<line x1="1875.1" y1="1290.1" x2="1875.1" y2="1293.1" stroke="#000000" stroke-width="1.45"/>
<line x1="1866.4" y1="1290.1" x2="1883.8" y2="1290.1" stroke="#000000" stroke-width="1.45"/>
<line x1="1866.4" y1="1293.1" x2="1883.8" y2="1293.1" stroke="#000000" stroke-width="1.45"/>
<polyline points="1470,1743.8 1553.1,1646.6 1658.7,1522.5 1875.1,1291.6" fill="none" stroke="#000000" stroke-width="1.45" stroke-linejoin="round"/>
<polygon points="1470,1737.4 1476.4,1748.79 1463.6,1748.79" fill="#B3B3B3" stroke="#000000" stroke-width="1.45" stroke-linejoin="miter"/>
<polygon points="1553.1,1640.2 1559.5,1651.59 1546.7,1651.59" fill="#B3B3B3" stroke="#000000" stroke-width="1.45" stroke-linejoin="miter"/>
<polygon points="1658.7,1516.1 1665.1,1527.49 1652.3,1527.49" fill="#B3B3B3" stroke="#000000" stroke-width="1.45" stroke-linejoin="miter"/>
<polygon points="1875.1,1285.2 1881.5,1296.59 1868.7,1296.59" fill="#B3B3B3" stroke="#000000" stroke-width="1.45" stroke-linejoin="miter"/>
<line x1="1520" y1="1737.6" x2="1524" y2="1737.6" stroke="#000000" stroke-width="1.45"/>
<line x1="1520" y1="1728.9" x2="1520" y2="1746.3" stroke="#000000" stroke-width="1.45"/>
<line x1="1524" y1="1728.9" x2="1524" y2="1746.3" stroke="#000000" stroke-width="1.45"/>
<line x1="1522" y1="1736.6" x2="1522" y2="1738.6" stroke="#000000" stroke-width="1.45"/>
<line x1="1513.3" y1="1736.6" x2="1530.7" y2="1736.6" stroke="#000000" stroke-width="1.45"/>
<line x1="1513.3" y1="1738.6" x2="1530.7" y2="1738.6" stroke="#000000" stroke-width="1.45"/>
<line x1="1587.1" y1="1728.7" x2="1594.1" y2="1728.7" stroke="#000000" stroke-width="1.45"/>
<line x1="1587.1" y1="1720" x2="1587.1" y2="1737.4" stroke="#000000" stroke-width="1.45"/>
<line x1="1594.1" y1="1720" x2="1594.1" y2="1737.4" stroke="#000000" stroke-width="1.45"/>
<line x1="1590.6" y1="1727.2" x2="1590.6" y2="1730.2" stroke="#000000" stroke-width="1.45"/>
<line x1="1581.9" y1="1727.2" x2="1599.3" y2="1727.2" stroke="#000000" stroke-width="1.45"/>
<line x1="1581.9" y1="1730.2" x2="1599.3" y2="1730.2" stroke="#000000" stroke-width="1.45"/>
<line x1="1699.6" y1="1712.7" x2="1714.8" y2="1712.7" stroke="#000000" stroke-width="1.45"/>
<line x1="1699.6" y1="1704" x2="1699.6" y2="1721.4" stroke="#000000" stroke-width="1.45"/>
<line x1="1714.8" y1="1704" x2="1714.8" y2="1721.4" stroke="#000000" stroke-width="1.45"/>
<line x1="1707.2" y1="1711.7" x2="1707.2" y2="1713.7" stroke="#000000" stroke-width="1.45"/>
<line x1="1698.5" y1="1711.7" x2="1715.9" y2="1711.7" stroke="#000000" stroke-width="1.45"/>
<line x1="1698.5" y1="1713.7" x2="1715.9" y2="1713.7" stroke="#000000" stroke-width="1.45"/>
<line x1="1944.5" y1="1685.8" x2="1968.9" y2="1685.8" stroke="#000000" stroke-width="1.45"/>
<line x1="1944.5" y1="1677.1" x2="1944.5" y2="1694.5" stroke="#000000" stroke-width="1.45"/>
<line x1="1968.9" y1="1677.1" x2="1968.9" y2="1694.5" stroke="#000000" stroke-width="1.45"/>
<line x1="1956.7" y1="1684.8" x2="1956.7" y2="1686.8" stroke="#000000" stroke-width="1.45"/>
<line x1="1948" y1="1684.8" x2="1965.4" y2="1684.8" stroke="#000000" stroke-width="1.45"/>
<line x1="1948" y1="1686.8" x2="1965.4" y2="1686.8" stroke="#000000" stroke-width="1.45"/>
<polyline points="1470,1743.8 1522,1737.6 1590.6,1728.7 1707.2,1712.7 1956.7,1685.8" fill="none" stroke="#000000" stroke-width="1.45" stroke-linejoin="round"/>
<line x1="1462.6" y1="1736.4" x2="1477.4" y2="1751.2" stroke="#000000" stroke-width="1.45"/>
<line x1="1462.6" y1="1751.2" x2="1477.4" y2="1736.4" stroke="#000000" stroke-width="1.45"/>
<line x1="1514.6" y1="1730.2" x2="1529.4" y2="1745" stroke="#000000" stroke-width="1.45"/>
<line x1="1514.6" y1="1745" x2="1529.4" y2="1730.2" stroke="#000000" stroke-width="1.45"/>
<line x1="1583.2" y1="1721.3" x2="1598" y2="1736.1" stroke="#000000" stroke-width="1.45"/>
<line x1="1583.2" y1="1736.1" x2="1598" y2="1721.3" stroke="#000000" stroke-width="1.45"/>
<line x1="1699.8" y1="1705.3" x2="1714.6" y2="1720.1" stroke="#000000" stroke-width="1.45"/>
<line x1="1699.8" y1="1720.1" x2="1714.6" y2="1705.3" stroke="#000000" stroke-width="1.45"/>
<line x1="1949.3" y1="1678.4" x2="1964.1" y2="1693.2" stroke="#000000" stroke-width="1.45"/>
<line x1="1949.3" y1="1693.2" x2="1964.1" y2="1678.4" stroke="#000000" stroke-width="1.45"/>
<line x1="1502.2" y1="1714.6" x2="1508.2" y2="1714.6" stroke="#000000" stroke-width="1.45"/>
<line x1="1502.2" y1="1705.9" x2="1502.2" y2="1723.3" stroke="#000000" stroke-width="1.45"/>
<line x1="1508.2" y1="1705.9" x2="1508.2" y2="1723.3" stroke="#000000" stroke-width="1.45"/>
<line x1="1505.2" y1="1713.1" x2="1505.2" y2="1716.1" stroke="#000000" stroke-width="1.45"/>
<line x1="1496.5" y1="1713.1" x2="1513.9" y2="1713.1" stroke="#000000" stroke-width="1.45"/>
<line x1="1496.5" y1="1716.1" x2="1513.9" y2="1716.1" stroke="#000000" stroke-width="1.45"/>
<line x1="1554.1" y1="1673.2" x2="1561.1" y2="1673.2" stroke="#000000" stroke-width="1.45"/>
<line x1="1554.1" y1="1664.5" x2="1554.1" y2="1681.9" stroke="#000000" stroke-width="1.45"/>
<line x1="1561.1" y1="1664.5" x2="1561.1" y2="1681.9" stroke="#000000" stroke-width="1.45"/>
<line x1="1557.6" y1="1671.7" x2="1557.6" y2="1674.7" stroke="#000000" stroke-width="1.45"/>
<line x1="1548.9" y1="1671.7" x2="1566.3" y2="1671.7" stroke="#000000" stroke-width="1.45"/>
<line x1="1548.9" y1="1674.7" x2="1566.3" y2="1674.7" stroke="#000000" stroke-width="1.45"/>
<line x1="1647.3" y1="1602.3" x2="1654.3" y2="1602.3" stroke="#000000" stroke-width="1.45"/>
<line x1="1647.3" y1="1593.6" x2="1647.3" y2="1611" stroke="#000000" stroke-width="1.45"/>
<line x1="1654.3" y1="1593.6" x2="1654.3" y2="1611" stroke="#000000" stroke-width="1.45"/>
<line x1="1650.8" y1="1600.8" x2="1650.8" y2="1603.8" stroke="#000000" stroke-width="1.45"/>
<line x1="1642.1" y1="1600.8" x2="1659.5" y2="1600.8" stroke="#000000" stroke-width="1.45"/>
<line x1="1642.1" y1="1603.8" x2="1659.5" y2="1603.8" stroke="#000000" stroke-width="1.45"/>
<line x1="1833" y1="1472.5" x2="1853" y2="1472.5" stroke="#000000" stroke-width="1.45"/>
<line x1="1833" y1="1463.8" x2="1833" y2="1481.2" stroke="#000000" stroke-width="1.45"/>
<line x1="1853" y1="1463.8" x2="1853" y2="1481.2" stroke="#000000" stroke-width="1.45"/>
<line x1="1843" y1="1471" x2="1843" y2="1474" stroke="#000000" stroke-width="1.45"/>
<line x1="1834.3" y1="1471" x2="1851.7" y2="1471" stroke="#000000" stroke-width="1.45"/>
<line x1="1834.3" y1="1474" x2="1851.7" y2="1474" stroke="#000000" stroke-width="1.45"/>
<polyline points="1470,1743.8 1505.2,1714.6 1557.6,1673.2 1650.8,1602.3 1843,1472.5" fill="none" stroke="#000000" stroke-width="1.45" stroke-linejoin="round"/>
<rect x="1464.4" y="1738.2" width="11.2" height="11.2" fill="#FFFFFF" stroke="#000000" stroke-width="1.45"/>
<polygon points="1464.4,1738.2 1475.6,1738.2 1464.4,1749.4" fill="#000000"/>
<rect x="1499.6" y="1709" width="11.2" height="11.2" fill="#FFFFFF" stroke="#000000" stroke-width="1.45"/>
<polygon points="1499.6,1709 1510.8,1709 1499.6,1720.2" fill="#000000"/>
<rect x="1552" y="1667.6" width="11.2" height="11.2" fill="#FFFFFF" stroke="#000000" stroke-width="1.45"/>
<polygon points="1552,1667.6 1563.2,1667.6 1552,1678.8" fill="#000000"/>
<rect x="1645.2" y="1596.7" width="11.2" height="11.2" fill="#FFFFFF" stroke="#000000" stroke-width="1.45"/>
<polygon points="1645.2,1596.7 1656.4,1596.7 1645.2,1607.9" fill="#000000"/>
<rect x="1837.4" y="1466.9" width="11.2" height="11.2" fill="#FFFFFF" stroke="#000000" stroke-width="1.45"/>
<polygon points="1837.4,1466.9 1848.6,1466.9 1837.4,1478.1" fill="#000000"/>
<line x1="1499.75" y1="1226.6" x2="1499.75" y2="1244.2" stroke="#000000" stroke-width="1.45"/>
<polyline points="1470,1743.8 1473.7,1678.4 1479.7,1595.4 1489.2,1453.7 1499.8,1252.6" fill="none" stroke="#000000" stroke-width="1.45" stroke-linejoin="round"/>
<circle cx="1470" cy="1743.8" r="7.6" fill="#000000"/>
<circle cx="1473.7" cy="1678.4" r="7.6" fill="#000000"/>
<circle cx="1479.7" cy="1595.4" r="7.6" fill="#000000"/>
<circle cx="1489.2" cy="1453.7" r="7.6" fill="#000000"/>
<circle cx="1499.75" cy="1235.4" r="7.6" fill="#000000"/>
<line x1="1461.2" y1="1735" x2="1478.8" y2="1752.6" stroke="#000000" stroke-width="1.45"/>
<line x1="1461.2" y1="1752.6" x2="1478.8" y2="1735" stroke="#000000" stroke-width="1.45"/>
<line x1="1470" y1="1743.8" x2="2290" y2="1280.3" stroke="#000000" stroke-width="3"/>
<text x="1485.6" y="1206" font-size="23" fill="#000000">0.3626</text>
<text x="1888.2" y="1262.6" font-size="23" fill="#000000">0.0243</text>
<text x="2242.2" y="1239.6" font-size="23" fill="#000000">0.0142</text>
<text x="2312.2" y="1276.9" font-size="23" fill="#000000">0.0123</text>
<text x="1829.6" y="1442.4" font-size="23" fill="#000000">0.0158</text>
<text x="1985.4" y="1691.4" font-size="23" fill="#000000">0.0026</text>
</svg>
</body>
</html>
